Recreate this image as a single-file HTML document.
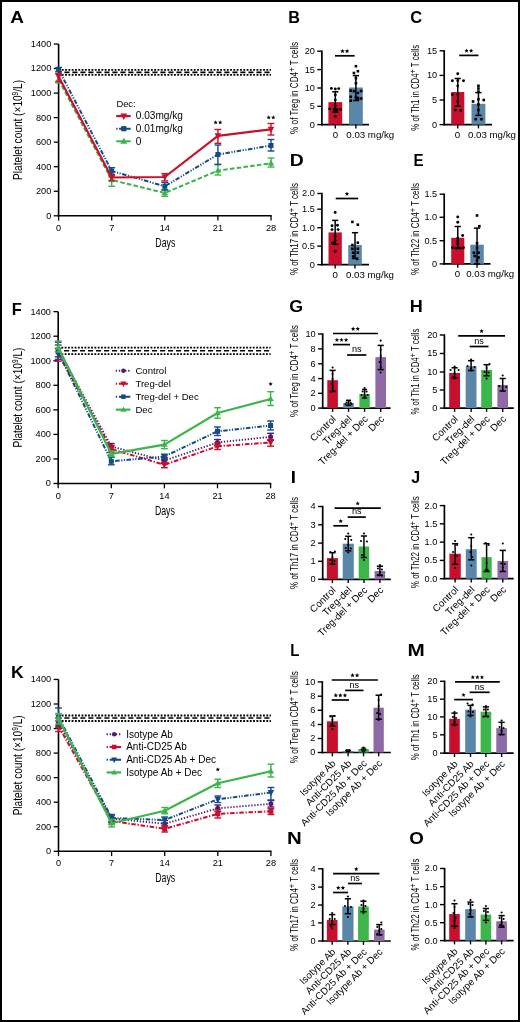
<!DOCTYPE html>
<html><head><meta charset="utf-8"><title>Figure</title>
<style>
html,body{margin:0;padding:0;background:#fff;}
body{width:520px;height:1022px;overflow:hidden;}
svg{display:block;font-family:"Liberation Sans", sans-serif;will-change:transform;}
</style></head><body>
<svg width="520" height="1022" viewBox="0 0 520 1022" font-family="Liberation Sans, sans-serif">
<rect x="0" y="0" width="520" height="1022" fill="#fff"/>
<line x1="58.6" y1="44.02" x2="58.6" y2="216.45" stroke="#000" stroke-width="1.6" stroke-linecap="butt"/>
<line x1="53.8" y1="215.8" x2="58.6" y2="215.8" stroke="#000" stroke-width="1.3" stroke-linecap="butt"/>
<text x="51.3" y="218.7" font-size="9.8" text-anchor="end" textLength="5.12" lengthAdjust="spacingAndGlyphs">0</text>
<line x1="53.8" y1="191.26" x2="58.6" y2="191.26" stroke="#000" stroke-width="1.3" stroke-linecap="butt"/>
<text x="51.3" y="194.16" font-size="9.8" text-anchor="end" textLength="15.35" lengthAdjust="spacingAndGlyphs">200</text>
<line x1="53.8" y1="166.72" x2="58.6" y2="166.72" stroke="#000" stroke-width="1.3" stroke-linecap="butt"/>
<text x="51.3" y="169.62" font-size="9.8" text-anchor="end" textLength="15.35" lengthAdjust="spacingAndGlyphs">400</text>
<line x1="53.8" y1="142.18" x2="58.6" y2="142.18" stroke="#000" stroke-width="1.3" stroke-linecap="butt"/>
<text x="51.3" y="145.08" font-size="9.8" text-anchor="end" textLength="15.35" lengthAdjust="spacingAndGlyphs">600</text>
<line x1="53.8" y1="117.64" x2="58.6" y2="117.64" stroke="#000" stroke-width="1.3" stroke-linecap="butt"/>
<text x="51.3" y="120.54" font-size="9.8" text-anchor="end" textLength="15.35" lengthAdjust="spacingAndGlyphs">800</text>
<line x1="53.8" y1="93.1" x2="58.6" y2="93.1" stroke="#000" stroke-width="1.3" stroke-linecap="butt"/>
<text x="51.3" y="96" font-size="9.8" text-anchor="end" textLength="20.46" lengthAdjust="spacingAndGlyphs">1000</text>
<line x1="53.8" y1="68.56" x2="58.6" y2="68.56" stroke="#000" stroke-width="1.3" stroke-linecap="butt"/>
<text x="51.3" y="71.46" font-size="9.8" text-anchor="end" textLength="20.46" lengthAdjust="spacingAndGlyphs">1200</text>
<line x1="53.8" y1="44.02" x2="58.6" y2="44.02" stroke="#000" stroke-width="1.3" stroke-linecap="butt"/>
<text x="51.3" y="46.92" font-size="9.8" text-anchor="end" textLength="20.46" lengthAdjust="spacingAndGlyphs">1400</text>
<line x1="57.8" y1="215.8" x2="271.65" y2="215.8" stroke="#000" stroke-width="1.6" stroke-linecap="butt"/>
<line x1="58.6" y1="215.8" x2="58.6" y2="220.6" stroke="#000" stroke-width="1.3" stroke-linecap="butt"/>
<text x="58.6" y="230.8" font-size="9.8" text-anchor="middle" textLength="5.12" lengthAdjust="spacingAndGlyphs">0</text>
<line x1="111.7" y1="215.8" x2="111.7" y2="220.6" stroke="#000" stroke-width="1.3" stroke-linecap="butt"/>
<text x="111.7" y="230.8" font-size="9.8" text-anchor="middle" textLength="5.12" lengthAdjust="spacingAndGlyphs">7</text>
<line x1="164.8" y1="215.8" x2="164.8" y2="220.6" stroke="#000" stroke-width="1.3" stroke-linecap="butt"/>
<text x="164.8" y="230.8" font-size="9.8" text-anchor="middle" textLength="10.23" lengthAdjust="spacingAndGlyphs">14</text>
<line x1="217.9" y1="215.8" x2="217.9" y2="220.6" stroke="#000" stroke-width="1.3" stroke-linecap="butt"/>
<text x="217.9" y="230.8" font-size="9.8" text-anchor="middle" textLength="10.23" lengthAdjust="spacingAndGlyphs">21</text>
<line x1="271" y1="215.8" x2="271" y2="220.6" stroke="#000" stroke-width="1.3" stroke-linecap="butt"/>
<text x="271" y="230.8" font-size="9.8" text-anchor="middle" textLength="10.23" lengthAdjust="spacingAndGlyphs">28</text>
<text x="165.3" y="246.8" font-size="12.6" text-anchor="middle" textLength="20" lengthAdjust="spacingAndGlyphs">Days</text>
<text x="21.8" y="129.91" font-size="13" text-anchor="middle" transform="rotate(-90 21.8 129.91)" textLength="100" lengthAdjust="spacingAndGlyphs">Platelet count (×10<tspan font-size="8.5" dy="-4.2">9</tspan><tspan dy="4.2">/L)</tspan></text>
<line x1="61.8" y1="69.9" x2="271" y2="69.9" stroke="#000" stroke-width="1.8" stroke-linecap="butt" stroke-dasharray="1.85 1.45"/>
<line x1="64.4" y1="72.4" x2="271" y2="72.4" stroke="#000" stroke-width="1.6" stroke-linecap="butt" stroke-dasharray="5.1 2.9"/>
<line x1="61.8" y1="74.9" x2="271" y2="74.9" stroke="#000" stroke-width="1.8" stroke-linecap="butt" stroke-dasharray="1.85 1.45"/>
<line x1="58.6" y1="73.6" x2="58.6" y2="83" stroke="#3bb44a" stroke-width="1.4" stroke-linecap="butt"/>
<line x1="55.2" y1="73.6" x2="62" y2="73.6" stroke="#3bb44a" stroke-width="1.4" stroke-linecap="butt"/>
<line x1="55.2" y1="83" x2="62" y2="83" stroke="#3bb44a" stroke-width="1.4" stroke-linecap="butt"/>
<line x1="111.7" y1="176.8" x2="111.7" y2="186.2" stroke="#3bb44a" stroke-width="1.4" stroke-linecap="butt"/>
<line x1="108.3" y1="176.8" x2="115.1" y2="176.8" stroke="#3bb44a" stroke-width="1.4" stroke-linecap="butt"/>
<line x1="108.3" y1="186.2" x2="115.1" y2="186.2" stroke="#3bb44a" stroke-width="1.4" stroke-linecap="butt"/>
<line x1="164.8" y1="189.8" x2="164.8" y2="196.3" stroke="#3bb44a" stroke-width="1.4" stroke-linecap="butt"/>
<line x1="161.4" y1="189.8" x2="168.2" y2="189.8" stroke="#3bb44a" stroke-width="1.4" stroke-linecap="butt"/>
<line x1="161.4" y1="196.3" x2="168.2" y2="196.3" stroke="#3bb44a" stroke-width="1.4" stroke-linecap="butt"/>
<line x1="217.9" y1="164.6" x2="217.9" y2="175" stroke="#3bb44a" stroke-width="1.4" stroke-linecap="butt"/>
<line x1="214.5" y1="164.6" x2="221.3" y2="164.6" stroke="#3bb44a" stroke-width="1.4" stroke-linecap="butt"/>
<line x1="214.5" y1="175" x2="221.3" y2="175" stroke="#3bb44a" stroke-width="1.4" stroke-linecap="butt"/>
<line x1="271" y1="158" x2="271" y2="167" stroke="#3bb44a" stroke-width="1.4" stroke-linecap="butt"/>
<line x1="267.6" y1="158" x2="274.4" y2="158" stroke="#3bb44a" stroke-width="1.4" stroke-linecap="butt"/>
<line x1="267.6" y1="167" x2="274.4" y2="167" stroke="#3bb44a" stroke-width="1.4" stroke-linecap="butt"/>
<polyline points="58.6,79.6 111.7,180 164.8,193 217.9,170.6 271,163.3" fill="none" stroke="#3bb44a" stroke-width="2" stroke-linejoin="round" stroke-linecap="butt" stroke-dasharray="4.6 2.2"/>
<polygon points="55.3,81.84 61.9,81.84 58.6,76.24" fill="#3bb44a"/>
<polygon points="108.4,182.24 115,182.24 111.7,176.64" fill="#3bb44a"/>
<polygon points="161.5,195.24 168.1,195.24 164.8,189.64" fill="#3bb44a"/>
<polygon points="214.6,172.84 221.2,172.84 217.9,167.24" fill="#3bb44a"/>
<polygon points="267.7,165.54 274.3,165.54 271,159.94" fill="#3bb44a"/>
<line x1="58.6" y1="67.5" x2="58.6" y2="71.5" stroke="#144b87" stroke-width="1.4" stroke-linecap="butt"/>
<line x1="55.2" y1="67.5" x2="62" y2="67.5" stroke="#144b87" stroke-width="1.4" stroke-linecap="butt"/>
<line x1="55.2" y1="71.5" x2="62" y2="71.5" stroke="#144b87" stroke-width="1.4" stroke-linecap="butt"/>
<line x1="111.7" y1="167.7" x2="111.7" y2="174.5" stroke="#144b87" stroke-width="1.4" stroke-linecap="butt"/>
<line x1="108.3" y1="167.7" x2="115.1" y2="167.7" stroke="#144b87" stroke-width="1.4" stroke-linecap="butt"/>
<line x1="108.3" y1="174.5" x2="115.1" y2="174.5" stroke="#144b87" stroke-width="1.4" stroke-linecap="butt"/>
<line x1="164.8" y1="182.5" x2="164.8" y2="190" stroke="#144b87" stroke-width="1.4" stroke-linecap="butt"/>
<line x1="161.4" y1="182.5" x2="168.2" y2="182.5" stroke="#144b87" stroke-width="1.4" stroke-linecap="butt"/>
<line x1="161.4" y1="190" x2="168.2" y2="190" stroke="#144b87" stroke-width="1.4" stroke-linecap="butt"/>
<line x1="217.9" y1="145" x2="217.9" y2="164.4" stroke="#144b87" stroke-width="1.4" stroke-linecap="butt"/>
<line x1="214.5" y1="145" x2="221.3" y2="145" stroke="#144b87" stroke-width="1.4" stroke-linecap="butt"/>
<line x1="214.5" y1="164.4" x2="221.3" y2="164.4" stroke="#144b87" stroke-width="1.4" stroke-linecap="butt"/>
<line x1="271" y1="139.5" x2="271" y2="151" stroke="#144b87" stroke-width="1.4" stroke-linecap="butt"/>
<line x1="267.6" y1="139.5" x2="274.4" y2="139.5" stroke="#144b87" stroke-width="1.4" stroke-linecap="butt"/>
<line x1="267.6" y1="151" x2="274.4" y2="151" stroke="#144b87" stroke-width="1.4" stroke-linecap="butt"/>
<polyline points="58.6,69.5 111.7,171 164.8,186.3 217.9,154.5 271,145.5" fill="none" stroke="#144b87" stroke-width="2" stroke-linejoin="round" stroke-linecap="butt" stroke-dasharray="4.5 1.5 1.2 1.5 1.2 1.5"/>
<rect x="56.1" y="67" width="5" height="5" fill="#144b87"/>
<rect x="109.2" y="168.5" width="5" height="5" fill="#144b87"/>
<rect x="162.3" y="183.8" width="5" height="5" fill="#144b87"/>
<rect x="215.4" y="152" width="5" height="5" fill="#144b87"/>
<rect x="268.5" y="143" width="5" height="5" fill="#144b87"/>
<line x1="58.6" y1="73.3" x2="58.6" y2="81.6" stroke="#c8102e" stroke-width="1.4" stroke-linecap="butt"/>
<line x1="55.2" y1="73.3" x2="62" y2="73.3" stroke="#c8102e" stroke-width="1.4" stroke-linecap="butt"/>
<line x1="55.2" y1="81.6" x2="62" y2="81.6" stroke="#c8102e" stroke-width="1.4" stroke-linecap="butt"/>
<line x1="111.7" y1="175" x2="111.7" y2="180.5" stroke="#c8102e" stroke-width="1.4" stroke-linecap="butt"/>
<line x1="108.3" y1="175" x2="115.1" y2="175" stroke="#c8102e" stroke-width="1.4" stroke-linecap="butt"/>
<line x1="108.3" y1="180.5" x2="115.1" y2="180.5" stroke="#c8102e" stroke-width="1.4" stroke-linecap="butt"/>
<line x1="164.8" y1="173.6" x2="164.8" y2="180.9" stroke="#c8102e" stroke-width="1.4" stroke-linecap="butt"/>
<line x1="161.4" y1="173.6" x2="168.2" y2="173.6" stroke="#c8102e" stroke-width="1.4" stroke-linecap="butt"/>
<line x1="161.4" y1="180.9" x2="168.2" y2="180.9" stroke="#c8102e" stroke-width="1.4" stroke-linecap="butt"/>
<line x1="217.9" y1="129.5" x2="217.9" y2="143.3" stroke="#c8102e" stroke-width="1.4" stroke-linecap="butt"/>
<line x1="214.5" y1="129.5" x2="221.3" y2="129.5" stroke="#c8102e" stroke-width="1.4" stroke-linecap="butt"/>
<line x1="214.5" y1="143.3" x2="221.3" y2="143.3" stroke="#c8102e" stroke-width="1.4" stroke-linecap="butt"/>
<line x1="271" y1="123.5" x2="271" y2="135" stroke="#c8102e" stroke-width="1.4" stroke-linecap="butt"/>
<line x1="267.6" y1="123.5" x2="274.4" y2="123.5" stroke="#c8102e" stroke-width="1.4" stroke-linecap="butt"/>
<line x1="267.6" y1="135" x2="274.4" y2="135" stroke="#c8102e" stroke-width="1.4" stroke-linecap="butt"/>
<polyline points="58.6,76.6 111.7,177.5 164.8,177 217.9,135.8 271,129.3" fill="none" stroke="#c8102e" stroke-width="2.2" stroke-linejoin="round" stroke-linecap="butt"/>
<polygon points="55.3,74.12 61.9,74.12 58.6,80.32" fill="#c8102e"/>
<polygon points="108.4,175.02 115,175.02 111.7,181.22" fill="#c8102e"/>
<polygon points="161.5,174.52 168.1,174.52 164.8,180.72" fill="#c8102e"/>
<polygon points="214.6,133.32 221.2,133.32 217.9,139.52" fill="#c8102e"/>
<polygon points="267.7,126.82 274.3,126.82 271,133.02" fill="#c8102e"/>
<polygon points="215.6,120.2 216.21,121.66 217.79,121.79 216.58,122.82 216.95,124.36 215.6,123.53 214.25,124.36 214.62,122.82 213.41,121.79 214.99,121.66" fill="#000"/>
<polygon points="220.2,120.2 220.81,121.66 222.39,121.79 221.18,122.82 221.55,124.36 220.2,123.53 218.85,124.36 219.22,122.82 218.01,121.79 219.59,121.66" fill="#000"/>
<polygon points="268.7,115.2 269.31,116.66 270.89,116.79 269.68,117.82 270.05,119.36 268.7,118.53 267.35,119.36 267.72,117.82 266.51,116.79 268.09,116.66" fill="#000"/>
<polygon points="273.3,115.2 273.91,116.66 275.49,116.79 274.28,117.82 274.65,119.36 273.3,118.53 271.95,119.36 272.32,117.82 271.11,116.79 272.69,116.66" fill="#000"/>
<text x="116.4" y="106.8" font-size="9.4">Dec:</text>
<line x1="116.2" y1="116.1" x2="130.7" y2="116.1" stroke="#c8102e" stroke-width="2.2" stroke-linecap="butt"/>
<polygon points="120.33,113.5 127.27,113.5 123.8,120.01" fill="#c8102e"/>
<text x="135.8" y="119.4" font-size="10.1">0.03mg/kg</text>
<line x1="116.2" y1="128.7" x2="130.7" y2="128.7" stroke="#144b87" stroke-width="2" stroke-linecap="butt" stroke-dasharray="1.3 1.6 20 0"/>
<rect x="121.17" y="126.07" width="5.25" height="5.25" fill="#144b87"/>
<text x="135.8" y="132" font-size="10.1">0.01mg/kg</text>
<line x1="116.2" y1="141.3" x2="130.7" y2="141.3" stroke="#3bb44a" stroke-width="2" stroke-linecap="butt"/>
<polygon points="120.33,143.65 127.27,143.65 123.8,137.77" fill="#3bb44a"/>
<text x="135.8" y="144.6" font-size="10.1">0</text>
<line x1="321.9" y1="50.5" x2="321.9" y2="125.4" stroke="#000" stroke-width="1.7" stroke-linecap="butt"/>
<line x1="317.3" y1="124.6" x2="321.9" y2="124.6" stroke="#000" stroke-width="1.4" stroke-linecap="butt"/>
<text x="314.9" y="127.5" font-size="9.8" text-anchor="end" textLength="5.12" lengthAdjust="spacingAndGlyphs">0</text>
<line x1="317.3" y1="106.3" x2="321.9" y2="106.3" stroke="#000" stroke-width="1.4" stroke-linecap="butt"/>
<text x="314.9" y="109.2" font-size="9.8" text-anchor="end" textLength="5.12" lengthAdjust="spacingAndGlyphs">5</text>
<line x1="317.3" y1="88" x2="321.9" y2="88" stroke="#000" stroke-width="1.4" stroke-linecap="butt"/>
<text x="314.9" y="90.9" font-size="9.8" text-anchor="end" textLength="10.23" lengthAdjust="spacingAndGlyphs">10</text>
<line x1="317.3" y1="69.6" x2="321.9" y2="69.6" stroke="#000" stroke-width="1.4" stroke-linecap="butt"/>
<text x="314.9" y="72.5" font-size="9.8" text-anchor="end" textLength="10.23" lengthAdjust="spacingAndGlyphs">15</text>
<line x1="317.3" y1="51.2" x2="321.9" y2="51.2" stroke="#000" stroke-width="1.4" stroke-linecap="butt"/>
<text x="314.9" y="54.1" font-size="9.8" text-anchor="end" textLength="10.23" lengthAdjust="spacingAndGlyphs">20</text>
<line x1="321.1" y1="124.6" x2="369" y2="124.6" stroke="#000" stroke-width="1.7" stroke-linecap="butt"/>
<rect x="328.4" y="102.1" width="13.8" height="22.5" fill="#c8102e"/>
<rect x="349" y="87.5" width="13.8" height="37.1" fill="#5a86a9"/>
<line x1="335.3" y1="124.6" x2="335.3" y2="128.4" stroke="#000" stroke-width="1.4" stroke-linecap="butt"/>
<line x1="335.3" y1="91.8" x2="335.3" y2="112.1" stroke="#000" stroke-width="1.5" stroke-linecap="butt"/>
<line x1="332.2" y1="91.8" x2="338.4" y2="91.8" stroke="#000" stroke-width="1.5" stroke-linecap="butt"/>
<line x1="332.2" y1="112.1" x2="338.4" y2="112.1" stroke="#000" stroke-width="1.5" stroke-linecap="butt"/>
<circle cx="331.4" cy="88.4" r="1.45" fill="#000"/>
<circle cx="335.3" cy="89" r="1.45" fill="#000"/>
<circle cx="338.7" cy="88.6" r="1.45" fill="#000"/>
<circle cx="335.3" cy="95" r="1.45" fill="#000"/>
<circle cx="335.3" cy="100" r="1.45" fill="#000"/>
<circle cx="335.3" cy="105.9" r="1.45" fill="#000"/>
<circle cx="329.7" cy="108.9" r="1.45" fill="#000"/>
<circle cx="334" cy="109.5" r="1.45" fill="#000"/>
<circle cx="337" cy="109.8" r="1.45" fill="#000"/>
<circle cx="340.7" cy="109.5" r="1.45" fill="#000"/>
<circle cx="335.3" cy="112" r="1.45" fill="#000"/>
<circle cx="335.3" cy="116.4" r="1.45" fill="#000"/>
<line x1="355.9" y1="124.6" x2="355.9" y2="128.4" stroke="#000" stroke-width="1.4" stroke-linecap="butt"/>
<line x1="355.9" y1="75.6" x2="355.9" y2="100.5" stroke="#000" stroke-width="1.5" stroke-linecap="butt"/>
<line x1="352.8" y1="75.6" x2="359" y2="75.6" stroke="#000" stroke-width="1.5" stroke-linecap="butt"/>
<line x1="352.8" y1="100.5" x2="359" y2="100.5" stroke="#000" stroke-width="1.5" stroke-linecap="butt"/>
<rect x="354.6" y="64.9" width="2.6" height="2.6" fill="#000"/>
<rect x="356.6" y="69.9" width="2.6" height="2.6" fill="#000"/>
<rect x="352.6" y="71.7" width="2.6" height="2.6" fill="#000"/>
<rect x="354.6" y="76.9" width="2.6" height="2.6" fill="#000"/>
<rect x="354.6" y="81.9" width="2.6" height="2.6" fill="#000"/>
<rect x="349.4" y="89.4" width="2.6" height="2.6" fill="#000"/>
<rect x="352.6" y="89.9" width="2.6" height="2.6" fill="#000"/>
<rect x="356.6" y="91.6" width="2.6" height="2.6" fill="#000"/>
<rect x="359.8" y="89.7" width="2.6" height="2.6" fill="#000"/>
<rect x="349.4" y="95.5" width="2.6" height="2.6" fill="#000"/>
<rect x="354.6" y="95.9" width="2.6" height="2.6" fill="#000"/>
<rect x="356.6" y="96.7" width="2.6" height="2.6" fill="#000"/>
<rect x="359.8" y="97.2" width="2.6" height="2.6" fill="#000"/>
<rect x="349.4" y="99.4" width="2.6" height="2.6" fill="#000"/>
<rect x="356.6" y="98.5" width="2.6" height="2.6" fill="#000"/>
<line x1="335" y1="55.8" x2="354.6" y2="55.8" stroke="#000" stroke-width="1.7" stroke-linecap="butt"/>
<polygon points="342.5,48.9 343.11,50.36 344.69,50.49 343.48,51.52 343.85,53.06 342.5,52.23 341.15,53.06 341.52,51.52 340.31,50.49 341.89,50.36" fill="#000"/>
<polygon points="347.1,48.9 347.71,50.36 349.29,50.49 348.08,51.52 348.45,53.06 347.1,52.23 345.75,53.06 346.12,51.52 344.91,50.49 346.49,50.36" fill="#000"/>
<text x="297.7" y="87.9" font-size="10.3" text-anchor="middle" transform="rotate(-90 297.7 87.9)" textLength="92" lengthAdjust="spacingAndGlyphs">% of Treg in CD4<tspan font-size="9.5" dy="-3.0">+</tspan><tspan dy="3.0"> T cells</tspan></text>
<text x="335.4" y="137.8" font-size="9.7" text-anchor="middle">0</text>
<text x="346.3" y="137.8" font-size="9.7">0.03 mg/kg</text>
<line x1="444.2" y1="50.1" x2="444.2" y2="125.4" stroke="#000" stroke-width="1.7" stroke-linecap="butt"/>
<line x1="439.6" y1="124.6" x2="444.2" y2="124.6" stroke="#000" stroke-width="1.4" stroke-linecap="butt"/>
<text x="437.2" y="127.5" font-size="9.8" text-anchor="end" textLength="5.12" lengthAdjust="spacingAndGlyphs">0</text>
<line x1="439.6" y1="100" x2="444.2" y2="100" stroke="#000" stroke-width="1.4" stroke-linecap="butt"/>
<text x="437.2" y="102.9" font-size="9.8" text-anchor="end" textLength="5.12" lengthAdjust="spacingAndGlyphs">5</text>
<line x1="439.6" y1="75.4" x2="444.2" y2="75.4" stroke="#000" stroke-width="1.4" stroke-linecap="butt"/>
<text x="437.2" y="78.3" font-size="9.8" text-anchor="end" textLength="10.23" lengthAdjust="spacingAndGlyphs">10</text>
<line x1="439.6" y1="50.8" x2="444.2" y2="50.8" stroke="#000" stroke-width="1.4" stroke-linecap="butt"/>
<text x="437.2" y="53.7" font-size="9.8" text-anchor="end" textLength="10.23" lengthAdjust="spacingAndGlyphs">15</text>
<line x1="443.4" y1="124.6" x2="492" y2="124.6" stroke="#000" stroke-width="1.7" stroke-linecap="butt"/>
<rect x="451.2" y="92" width="13.1" height="32.6" fill="#c8102e"/>
<rect x="471.5" y="103.8" width="13.9" height="20.8" fill="#5a86a9"/>
<line x1="457.75" y1="124.6" x2="457.75" y2="128.4" stroke="#000" stroke-width="1.4" stroke-linecap="butt"/>
<line x1="457.75" y1="78.5" x2="457.75" y2="106.2" stroke="#000" stroke-width="1.5" stroke-linecap="butt"/>
<line x1="454.65" y1="78.5" x2="460.85" y2="78.5" stroke="#000" stroke-width="1.5" stroke-linecap="butt"/>
<line x1="454.65" y1="106.2" x2="460.85" y2="106.2" stroke="#000" stroke-width="1.5" stroke-linecap="butt"/>
<circle cx="457.75" cy="73.8" r="1.45" fill="#000"/>
<circle cx="452.35" cy="80.8" r="1.45" fill="#000"/>
<circle cx="457.75" cy="80.8" r="1.45" fill="#000"/>
<circle cx="463.55" cy="80.8" r="1.45" fill="#000"/>
<circle cx="457.75" cy="86" r="1.45" fill="#000"/>
<circle cx="452.35" cy="94.6" r="1.45" fill="#000"/>
<circle cx="457.75" cy="94.6" r="1.45" fill="#000"/>
<circle cx="457.75" cy="101.5" r="1.45" fill="#000"/>
<circle cx="455.45" cy="110" r="1.45" fill="#000"/>
<circle cx="460.85" cy="110.5" r="1.45" fill="#000"/>
<line x1="478.45" y1="124.6" x2="478.45" y2="128.4" stroke="#000" stroke-width="1.4" stroke-linecap="butt"/>
<line x1="478.45" y1="92.6" x2="478.45" y2="115.4" stroke="#000" stroke-width="1.5" stroke-linecap="butt"/>
<line x1="475.35" y1="92.6" x2="481.55" y2="92.6" stroke="#000" stroke-width="1.5" stroke-linecap="butt"/>
<line x1="475.35" y1="115.4" x2="481.55" y2="115.4" stroke="#000" stroke-width="1.5" stroke-linecap="butt"/>
<rect x="477.15" y="84.5" width="2.6" height="2.6" fill="#000"/>
<rect x="477.15" y="87.2" width="2.6" height="2.6" fill="#000"/>
<rect x="477.15" y="90.2" width="2.6" height="2.6" fill="#000"/>
<rect x="471.75" y="100.2" width="2.6" height="2.6" fill="#000"/>
<rect x="477.15" y="97.9" width="2.6" height="2.6" fill="#000"/>
<rect x="482.45" y="98.7" width="2.6" height="2.6" fill="#000"/>
<rect x="477.15" y="108.7" width="2.6" height="2.6" fill="#000"/>
<rect x="474.35" y="117.9" width="2.6" height="2.6" fill="#000"/>
<rect x="480.15" y="117.9" width="2.6" height="2.6" fill="#000"/>
<rect x="477.15" y="103.2" width="2.6" height="2.6" fill="#000"/>
<line x1="459.2" y1="55.4" x2="478.5" y2="55.4" stroke="#000" stroke-width="1.7" stroke-linecap="butt"/>
<polygon points="466.55,48.5 467.16,49.96 468.74,50.09 467.53,51.12 467.9,52.66 466.55,51.83 465.2,52.66 465.57,51.12 464.36,50.09 465.94,49.96" fill="#000"/>
<polygon points="471.15,48.5 471.76,49.96 473.34,50.09 472.13,51.12 472.5,52.66 471.15,51.83 469.8,52.66 470.17,51.12 468.96,50.09 470.54,49.96" fill="#000"/>
<text x="419.5" y="87.7" font-size="10.3" text-anchor="middle" transform="rotate(-90 419.5 87.7)" textLength="86" lengthAdjust="spacingAndGlyphs">% of Th1 in CD4<tspan font-size="9.5" dy="-3.0">+</tspan><tspan dy="3.0"> T cells</tspan></text>
<text x="457.4" y="137.8" font-size="9.7" text-anchor="middle">0</text>
<text x="468" y="137.8" font-size="9.7">0.03 mg/kg</text>
<line x1="321.9" y1="192.8" x2="321.9" y2="265.5" stroke="#000" stroke-width="1.7" stroke-linecap="butt"/>
<line x1="317.3" y1="264.7" x2="321.9" y2="264.7" stroke="#000" stroke-width="1.4" stroke-linecap="butt"/>
<text x="314.9" y="267.6" font-size="9.8" text-anchor="end" textLength="5.12" lengthAdjust="spacingAndGlyphs">0</text>
<line x1="317.3" y1="246.1" x2="321.9" y2="246.1" stroke="#000" stroke-width="1.4" stroke-linecap="butt"/>
<text x="314.9" y="249" font-size="9.8" text-anchor="end" textLength="12.79" lengthAdjust="spacingAndGlyphs">0.5</text>
<line x1="317.3" y1="227.7" x2="321.9" y2="227.7" stroke="#000" stroke-width="1.4" stroke-linecap="butt"/>
<text x="314.9" y="230.6" font-size="9.8" text-anchor="end" textLength="12.79" lengthAdjust="spacingAndGlyphs">1.0</text>
<line x1="317.3" y1="209.2" x2="321.9" y2="209.2" stroke="#000" stroke-width="1.4" stroke-linecap="butt"/>
<text x="314.9" y="212.1" font-size="9.8" text-anchor="end" textLength="12.79" lengthAdjust="spacingAndGlyphs">1.5</text>
<line x1="317.3" y1="193.5" x2="321.9" y2="193.5" stroke="#000" stroke-width="1.4" stroke-linecap="butt"/>
<text x="314.9" y="196.4" font-size="9.8" text-anchor="end" textLength="12.79" lengthAdjust="spacingAndGlyphs">2.0</text>
<line x1="321.1" y1="264.7" x2="369" y2="264.7" stroke="#000" stroke-width="1.7" stroke-linecap="butt"/>
<rect x="328.5" y="232.4" width="13.3" height="32.3" fill="#c8102e"/>
<rect x="348.2" y="245" width="13.6" height="19.7" fill="#5a86a9"/>
<line x1="335.15" y1="264.7" x2="335.15" y2="268.5" stroke="#000" stroke-width="1.4" stroke-linecap="butt"/>
<line x1="335.15" y1="220.4" x2="335.15" y2="244.2" stroke="#000" stroke-width="1.5" stroke-linecap="butt"/>
<line x1="332.05" y1="220.4" x2="338.25" y2="220.4" stroke="#000" stroke-width="1.5" stroke-linecap="butt"/>
<line x1="332.05" y1="244.2" x2="338.25" y2="244.2" stroke="#000" stroke-width="1.5" stroke-linecap="butt"/>
<circle cx="335.15" cy="212.4" r="1.45" fill="#000"/>
<circle cx="332.05" cy="225.8" r="1.45" fill="#000"/>
<circle cx="337.45" cy="225.3" r="1.45" fill="#000"/>
<circle cx="332.05" cy="229.6" r="1.45" fill="#000"/>
<circle cx="338.05" cy="229.6" r="1.45" fill="#000"/>
<circle cx="335.15" cy="236.5" r="1.45" fill="#000"/>
<circle cx="335.15" cy="240.4" r="1.45" fill="#000"/>
<circle cx="332.65" cy="243" r="1.45" fill="#000"/>
<circle cx="335.15" cy="251.2" r="1.45" fill="#000"/>
<line x1="355" y1="264.7" x2="355" y2="268.5" stroke="#000" stroke-width="1.4" stroke-linecap="butt"/>
<line x1="355" y1="232.7" x2="355" y2="258.5" stroke="#000" stroke-width="1.5" stroke-linecap="butt"/>
<line x1="351.9" y1="232.7" x2="358.1" y2="232.7" stroke="#000" stroke-width="1.5" stroke-linecap="butt"/>
<line x1="351.9" y1="258.5" x2="358.1" y2="258.5" stroke="#000" stroke-width="1.5" stroke-linecap="butt"/>
<rect x="351.1" y="220.6" width="2.6" height="2.6" fill="#000"/>
<rect x="356.5" y="223.4" width="2.6" height="2.6" fill="#000"/>
<rect x="356.5" y="241.4" width="2.6" height="2.6" fill="#000"/>
<rect x="351.1" y="243.7" width="2.6" height="2.6" fill="#000"/>
<rect x="351.1" y="247.5" width="2.6" height="2.6" fill="#000"/>
<rect x="356.5" y="247.5" width="2.6" height="2.6" fill="#000"/>
<rect x="351.8" y="251.4" width="2.6" height="2.6" fill="#000"/>
<rect x="356.5" y="251.4" width="2.6" height="2.6" fill="#000"/>
<rect x="351.8" y="255.2" width="2.6" height="2.6" fill="#000"/>
<rect x="355.8" y="257.5" width="2.6" height="2.6" fill="#000"/>
<line x1="335.7" y1="198.5" x2="358.2" y2="198.5" stroke="#000" stroke-width="1.7" stroke-linecap="butt"/>
<polygon points="346.95,191.6 347.56,193.06 349.14,193.19 347.93,194.22 348.3,195.76 346.95,194.94 345.6,195.76 345.97,194.22 344.76,193.19 346.34,193.06" fill="#000"/>
<text x="297.7" y="229.1" font-size="10.3" text-anchor="middle" transform="rotate(-90 297.7 229.1)" textLength="92" lengthAdjust="spacingAndGlyphs">% of Th17 in CD4<tspan font-size="9.5" dy="-3.0">+</tspan><tspan dy="3.0"> T cells</tspan></text>
<text x="335.1" y="277.9" font-size="9.7" text-anchor="middle">0</text>
<text x="346" y="277.9" font-size="9.7">0.03 mg/kg</text>
<line x1="444.2" y1="193.5" x2="444.2" y2="264.7" stroke="#000" stroke-width="1.7" stroke-linecap="butt"/>
<line x1="439.6" y1="263.9" x2="444.2" y2="263.9" stroke="#000" stroke-width="1.4" stroke-linecap="butt"/>
<text x="437.2" y="266.8" font-size="9.8" text-anchor="end" textLength="5.12" lengthAdjust="spacingAndGlyphs">0</text>
<line x1="439.6" y1="240.7" x2="444.2" y2="240.7" stroke="#000" stroke-width="1.4" stroke-linecap="butt"/>
<text x="437.2" y="243.6" font-size="9.8" text-anchor="end" textLength="12.79" lengthAdjust="spacingAndGlyphs">0.5</text>
<line x1="439.6" y1="217.3" x2="444.2" y2="217.3" stroke="#000" stroke-width="1.4" stroke-linecap="butt"/>
<text x="437.2" y="220.2" font-size="9.8" text-anchor="end" textLength="12.79" lengthAdjust="spacingAndGlyphs">1.0</text>
<line x1="439.6" y1="194.2" x2="444.2" y2="194.2" stroke="#000" stroke-width="1.4" stroke-linecap="butt"/>
<text x="437.2" y="197.1" font-size="9.8" text-anchor="end" textLength="12.79" lengthAdjust="spacingAndGlyphs">1.5</text>
<line x1="443.4" y1="263.9" x2="490.5" y2="263.9" stroke="#000" stroke-width="1.7" stroke-linecap="butt"/>
<rect x="451.2" y="237.8" width="13.1" height="26.1" fill="#c8102e"/>
<rect x="470.3" y="244.7" width="13.5" height="19.2" fill="#5a86a9"/>
<line x1="457.75" y1="263.9" x2="457.75" y2="267.7" stroke="#000" stroke-width="1.4" stroke-linecap="butt"/>
<line x1="457.75" y1="226.5" x2="457.75" y2="248.1" stroke="#000" stroke-width="1.5" stroke-linecap="butt"/>
<line x1="454.65" y1="226.5" x2="460.85" y2="226.5" stroke="#000" stroke-width="1.5" stroke-linecap="butt"/>
<line x1="454.65" y1="248.1" x2="460.85" y2="248.1" stroke="#000" stroke-width="1.5" stroke-linecap="butt"/>
<circle cx="457.75" cy="217" r="1.45" fill="#000"/>
<circle cx="457.75" cy="222.2" r="1.45" fill="#000"/>
<circle cx="462.65" cy="235.5" r="1.45" fill="#000"/>
<circle cx="457.75" cy="238.1" r="1.45" fill="#000"/>
<circle cx="457.75" cy="241" r="1.45" fill="#000"/>
<circle cx="457.75" cy="244.2" r="1.45" fill="#000"/>
<circle cx="452.65" cy="247.8" r="1.45" fill="#000"/>
<circle cx="456.25" cy="248.2" r="1.45" fill="#000"/>
<circle cx="460.25" cy="248.2" r="1.45" fill="#000"/>
<circle cx="463.45" cy="247.8" r="1.45" fill="#000"/>
<line x1="477.05" y1="263.9" x2="477.05" y2="267.7" stroke="#000" stroke-width="1.4" stroke-linecap="butt"/>
<line x1="477.05" y1="228.1" x2="477.05" y2="263.9" stroke="#000" stroke-width="1.5" stroke-linecap="butt"/>
<line x1="473.95" y1="228.1" x2="480.15" y2="228.1" stroke="#000" stroke-width="1.5" stroke-linecap="butt"/>
<line x1="473.95" y1="263.9" x2="480.15" y2="263.9" stroke="#000" stroke-width="1.5" stroke-linecap="butt"/>
<rect x="475.75" y="214.2" width="2.6" height="2.6" fill="#000"/>
<rect x="478.05" y="224.9" width="2.6" height="2.6" fill="#000"/>
<rect x="475.75" y="241.9" width="2.6" height="2.6" fill="#000"/>
<rect x="475.75" y="246.7" width="2.6" height="2.6" fill="#000"/>
<rect x="472.65" y="251.4" width="2.6" height="2.6" fill="#000"/>
<rect x="477.25" y="251.4" width="2.6" height="2.6" fill="#000"/>
<rect x="473.45" y="254.7" width="2.6" height="2.6" fill="#000"/>
<rect x="477.25" y="256.2" width="2.6" height="2.6" fill="#000"/>
<rect x="475.75" y="259.1" width="2.6" height="2.6" fill="#000"/>
<text x="419.5" y="229.05" font-size="10.3" text-anchor="middle" transform="rotate(-90 419.5 229.05)" textLength="92" lengthAdjust="spacingAndGlyphs">% of Th22 in CD4<tspan font-size="9.5" dy="-3.0">+</tspan><tspan dy="3.0"> T cells</tspan></text>
<text x="457.4" y="277.1" font-size="9.7" text-anchor="middle">0</text>
<text x="466.2" y="277.1" font-size="9.7">0.03 mg/kg</text>
<line x1="322.7" y1="333.3" x2="322.7" y2="408.9" stroke="#000" stroke-width="1.7" stroke-linecap="butt"/>
<line x1="318.1" y1="408.1" x2="322.7" y2="408.1" stroke="#000" stroke-width="1.4" stroke-linecap="butt"/>
<text x="315.7" y="411" font-size="9.8" text-anchor="end" textLength="5.12" lengthAdjust="spacingAndGlyphs">0</text>
<line x1="318.1" y1="393.3" x2="322.7" y2="393.3" stroke="#000" stroke-width="1.4" stroke-linecap="butt"/>
<text x="315.7" y="396.2" font-size="9.8" text-anchor="end" textLength="5.12" lengthAdjust="spacingAndGlyphs">2</text>
<line x1="318.1" y1="378.6" x2="322.7" y2="378.6" stroke="#000" stroke-width="1.4" stroke-linecap="butt"/>
<text x="315.7" y="381.5" font-size="9.8" text-anchor="end" textLength="5.12" lengthAdjust="spacingAndGlyphs">4</text>
<line x1="318.1" y1="363.8" x2="322.7" y2="363.8" stroke="#000" stroke-width="1.4" stroke-linecap="butt"/>
<text x="315.7" y="366.7" font-size="9.8" text-anchor="end" textLength="5.12" lengthAdjust="spacingAndGlyphs">6</text>
<line x1="318.1" y1="348.9" x2="322.7" y2="348.9" stroke="#000" stroke-width="1.4" stroke-linecap="butt"/>
<text x="315.7" y="351.8" font-size="9.8" text-anchor="end" textLength="5.12" lengthAdjust="spacingAndGlyphs">8</text>
<line x1="318.1" y1="334" x2="322.7" y2="334" stroke="#000" stroke-width="1.4" stroke-linecap="butt"/>
<text x="315.7" y="336.9" font-size="9.8" text-anchor="end" textLength="10.23" lengthAdjust="spacingAndGlyphs">10</text>
<line x1="321.9" y1="408.1" x2="390.6" y2="408.1" stroke="#000" stroke-width="1.7" stroke-linecap="butt"/>
<rect x="327.3" y="380.2" width="10.6" height="27.9" fill="#c8102e"/>
<rect x="343.3" y="403" width="10.5" height="5.1" fill="#5a86a9"/>
<rect x="359.4" y="394" width="10.4" height="14.1" fill="#3cb54a"/>
<rect x="375.4" y="357.1" width="10.6" height="51" fill="#8d69a6"/>
<line x1="332.6" y1="408.1" x2="332.6" y2="411.9" stroke="#000" stroke-width="1.4" stroke-linecap="butt"/>
<line x1="332.6" y1="370.4" x2="332.6" y2="391.5" stroke="#000" stroke-width="1.5" stroke-linecap="butt"/>
<line x1="329.5" y1="370.4" x2="335.7" y2="370.4" stroke="#000" stroke-width="1.5" stroke-linecap="butt"/>
<line x1="329.5" y1="391.5" x2="335.7" y2="391.5" stroke="#000" stroke-width="1.5" stroke-linecap="butt"/>
<circle cx="332.6" cy="367.5" r="1.05" fill="#000"/>
<circle cx="332.6" cy="374" r="1.05" fill="#000"/>
<circle cx="332.6" cy="379" r="1.05" fill="#000"/>
<circle cx="331.6" cy="384" r="1.05" fill="#000"/>
<circle cx="332.6" cy="388" r="1.05" fill="#000"/>
<circle cx="331.1" cy="391.5" r="1.05" fill="#000"/>
<circle cx="334.1" cy="391" r="1.05" fill="#000"/>
<line x1="348.55" y1="408.1" x2="348.55" y2="411.9" stroke="#000" stroke-width="1.4" stroke-linecap="butt"/>
<line x1="348.55" y1="400.3" x2="348.55" y2="405.3" stroke="#000" stroke-width="1.5" stroke-linecap="butt"/>
<line x1="346.05" y1="400.3" x2="351.05" y2="400.3" stroke="#000" stroke-width="1.5" stroke-linecap="butt"/>
<line x1="346.05" y1="405.3" x2="351.05" y2="405.3" stroke="#000" stroke-width="1.5" stroke-linecap="butt"/>
<circle cx="346.55" cy="402.5" r="1.05" fill="#000"/>
<circle cx="348.55" cy="401" r="1.05" fill="#000"/>
<circle cx="350.55" cy="402.5" r="1.05" fill="#000"/>
<circle cx="351.55" cy="404" r="1.05" fill="#000"/>
<circle cx="345.55" cy="404.2" r="1.05" fill="#000"/>
<line x1="364.6" y1="408.1" x2="364.6" y2="411.9" stroke="#000" stroke-width="1.4" stroke-linecap="butt"/>
<line x1="364.6" y1="389.5" x2="364.6" y2="398" stroke="#000" stroke-width="1.5" stroke-linecap="butt"/>
<line x1="362.1" y1="389.5" x2="367.1" y2="389.5" stroke="#000" stroke-width="1.5" stroke-linecap="butt"/>
<line x1="362.1" y1="398" x2="367.1" y2="398" stroke="#000" stroke-width="1.5" stroke-linecap="butt"/>
<circle cx="364.6" cy="388" r="1.05" fill="#000"/>
<circle cx="362.6" cy="391.5" r="1.05" fill="#000"/>
<circle cx="366.6" cy="391.5" r="1.05" fill="#000"/>
<circle cx="361.6" cy="395" r="1.05" fill="#000"/>
<circle cx="364.6" cy="396" r="1.05" fill="#000"/>
<circle cx="367.6" cy="395" r="1.05" fill="#000"/>
<line x1="380.7" y1="408.1" x2="380.7" y2="411.9" stroke="#000" stroke-width="1.4" stroke-linecap="butt"/>
<line x1="380.7" y1="345.4" x2="380.7" y2="369.6" stroke="#000" stroke-width="1.5" stroke-linecap="butt"/>
<line x1="377.6" y1="345.4" x2="383.8" y2="345.4" stroke="#000" stroke-width="1.5" stroke-linecap="butt"/>
<line x1="377.6" y1="369.6" x2="383.8" y2="369.6" stroke="#000" stroke-width="1.5" stroke-linecap="butt"/>
<circle cx="380.7" cy="340.6" r="1.05" fill="#000"/>
<circle cx="380.7" cy="350" r="1.05" fill="#000"/>
<circle cx="380.7" cy="356" r="1.05" fill="#000"/>
<circle cx="379.7" cy="362" r="1.05" fill="#000"/>
<circle cx="380.7" cy="367" r="1.05" fill="#000"/>
<circle cx="380.7" cy="372.5" r="1.05" fill="#000"/>
<line x1="333" y1="333.5" x2="377.9" y2="333.5" stroke="#000" stroke-width="1.7" stroke-linecap="butt"/>
<polygon points="353.15,326.6 353.76,328.06 355.34,328.19 354.13,329.22 354.5,330.76 353.15,329.94 351.8,330.76 352.17,329.22 350.96,328.19 352.54,328.06" fill="#000"/>
<polygon points="357.75,326.6 358.36,328.06 359.94,328.19 358.73,329.22 359.1,330.76 357.75,329.94 356.4,330.76 356.77,329.22 355.56,328.19 357.14,328.06" fill="#000"/>
<line x1="333" y1="344.6" x2="350" y2="344.6" stroke="#000" stroke-width="1.7" stroke-linecap="butt"/>
<polygon points="336.9,337.7 337.51,339.16 339.09,339.29 337.88,340.32 338.25,341.86 336.9,341.04 335.55,341.86 335.92,340.32 334.71,339.29 336.29,339.16" fill="#000"/>
<polygon points="341.5,337.7 342.11,339.16 343.69,339.29 342.48,340.32 342.85,341.86 341.5,341.04 340.15,341.86 340.52,340.32 339.31,339.29 340.89,339.16" fill="#000"/>
<polygon points="346.1,337.7 346.71,339.16 348.29,339.29 347.08,340.32 347.45,341.86 346.1,341.04 344.75,341.86 345.12,340.32 343.91,339.29 345.49,339.16" fill="#000"/>
<line x1="347.1" y1="355" x2="366.3" y2="355" stroke="#000" stroke-width="1.7" stroke-linecap="butt"/>
<text x="356.7" y="352.2" font-size="9.1" text-anchor="middle">ns</text>
<text x="297.7" y="371.05" font-size="10.3" text-anchor="middle" transform="rotate(-90 297.7 371.05)" textLength="92" lengthAdjust="spacingAndGlyphs">% of Treg in CD4<tspan font-size="9.5" dy="-3.0">+</tspan><tspan dy="3.0"> T cells</tspan></text>
<text x="336.6" y="419.6" font-size="9.9" text-anchor="end" transform="rotate(-45 336.6 419.6)">Control</text>
<text x="352.55" y="419.6" font-size="9.9" text-anchor="end" transform="rotate(-45 352.55 419.6)">Treg-del</text>
<text x="368.6" y="419.6" font-size="9.9" text-anchor="end" transform="rotate(-45 368.6 419.6)">Treg-del + Dec</text>
<text x="384.7" y="419.6" font-size="9.9" text-anchor="end" transform="rotate(-45 384.7 419.6)">Dec</text>
<line x1="444.4" y1="334.3" x2="444.4" y2="408.9" stroke="#000" stroke-width="1.7" stroke-linecap="butt"/>
<line x1="439.8" y1="408.1" x2="444.4" y2="408.1" stroke="#000" stroke-width="1.4" stroke-linecap="butt"/>
<text x="437.4" y="411" font-size="9.8" text-anchor="end" textLength="5.12" lengthAdjust="spacingAndGlyphs">0</text>
<line x1="439.8" y1="390" x2="444.4" y2="390" stroke="#000" stroke-width="1.4" stroke-linecap="butt"/>
<text x="437.4" y="392.9" font-size="9.8" text-anchor="end" textLength="5.12" lengthAdjust="spacingAndGlyphs">5</text>
<line x1="439.8" y1="372" x2="444.4" y2="372" stroke="#000" stroke-width="1.4" stroke-linecap="butt"/>
<text x="437.4" y="374.9" font-size="9.8" text-anchor="end" textLength="10.23" lengthAdjust="spacingAndGlyphs">10</text>
<line x1="439.8" y1="353.5" x2="444.4" y2="353.5" stroke="#000" stroke-width="1.4" stroke-linecap="butt"/>
<text x="437.4" y="356.4" font-size="9.8" text-anchor="end" textLength="10.23" lengthAdjust="spacingAndGlyphs">15</text>
<line x1="439.8" y1="335" x2="444.4" y2="335" stroke="#000" stroke-width="1.4" stroke-linecap="butt"/>
<text x="437.4" y="337.9" font-size="9.8" text-anchor="end" textLength="10.23" lengthAdjust="spacingAndGlyphs">20</text>
<line x1="443.6" y1="408.1" x2="513.8" y2="408.1" stroke="#000" stroke-width="1.7" stroke-linecap="butt"/>
<rect x="449.2" y="373" width="10.8" height="35.1" fill="#c8102e"/>
<rect x="465.7" y="366.2" width="10.8" height="41.9" fill="#5a86a9"/>
<rect x="481.2" y="370" width="10.8" height="38.1" fill="#3cb54a"/>
<rect x="497.4" y="385" width="10.6" height="23.1" fill="#8d69a6"/>
<line x1="454.6" y1="408.1" x2="454.6" y2="411.9" stroke="#000" stroke-width="1.4" stroke-linecap="butt"/>
<line x1="454.6" y1="367.8" x2="454.6" y2="378" stroke="#000" stroke-width="1.5" stroke-linecap="butt"/>
<line x1="451.5" y1="367.8" x2="457.7" y2="367.8" stroke="#000" stroke-width="1.5" stroke-linecap="butt"/>
<line x1="451.5" y1="378" x2="457.7" y2="378" stroke="#000" stroke-width="1.5" stroke-linecap="butt"/>
<circle cx="454.6" cy="366.5" r="1.05" fill="#000"/>
<circle cx="450.6" cy="370" r="1.05" fill="#000"/>
<circle cx="458.6" cy="370" r="1.05" fill="#000"/>
<circle cx="454.6" cy="373" r="1.05" fill="#000"/>
<circle cx="453.6" cy="377" r="1.05" fill="#000"/>
<circle cx="454.6" cy="378.5" r="1.05" fill="#000"/>
<line x1="471.1" y1="408.1" x2="471.1" y2="411.9" stroke="#000" stroke-width="1.4" stroke-linecap="butt"/>
<line x1="471.1" y1="360.7" x2="471.1" y2="370.5" stroke="#000" stroke-width="1.5" stroke-linecap="butt"/>
<line x1="468" y1="360.7" x2="474.2" y2="360.7" stroke="#000" stroke-width="1.5" stroke-linecap="butt"/>
<line x1="468" y1="370.5" x2="474.2" y2="370.5" stroke="#000" stroke-width="1.5" stroke-linecap="butt"/>
<circle cx="471.1" cy="359.5" r="1.05" fill="#000"/>
<circle cx="467.6" cy="366" r="1.05" fill="#000"/>
<circle cx="474.6" cy="367" r="1.05" fill="#000"/>
<circle cx="471.1" cy="368.5" r="1.05" fill="#000"/>
<circle cx="471.1" cy="370.5" r="1.05" fill="#000"/>
<line x1="486.6" y1="408.1" x2="486.6" y2="411.9" stroke="#000" stroke-width="1.4" stroke-linecap="butt"/>
<line x1="486.6" y1="364.7" x2="486.6" y2="375.8" stroke="#000" stroke-width="1.5" stroke-linecap="butt"/>
<line x1="483.5" y1="364.7" x2="489.7" y2="364.7" stroke="#000" stroke-width="1.5" stroke-linecap="butt"/>
<line x1="483.5" y1="375.8" x2="489.7" y2="375.8" stroke="#000" stroke-width="1.5" stroke-linecap="butt"/>
<circle cx="489.6" cy="364" r="1.05" fill="#000"/>
<circle cx="486.6" cy="368" r="1.05" fill="#000"/>
<circle cx="484.6" cy="372" r="1.05" fill="#000"/>
<circle cx="488.6" cy="372.5" r="1.05" fill="#000"/>
<circle cx="486.6" cy="378.5" r="1.05" fill="#000"/>
<line x1="502.7" y1="408.1" x2="502.7" y2="411.9" stroke="#000" stroke-width="1.4" stroke-linecap="butt"/>
<line x1="502.7" y1="378.5" x2="502.7" y2="391" stroke="#000" stroke-width="1.5" stroke-linecap="butt"/>
<line x1="499.6" y1="378.5" x2="505.8" y2="378.5" stroke="#000" stroke-width="1.5" stroke-linecap="butt"/>
<line x1="499.6" y1="391" x2="505.8" y2="391" stroke="#000" stroke-width="1.5" stroke-linecap="butt"/>
<circle cx="502.7" cy="375.5" r="1.05" fill="#000"/>
<circle cx="499.2" cy="386" r="1.05" fill="#000"/>
<circle cx="506.2" cy="387" r="1.05" fill="#000"/>
<circle cx="502.7" cy="390.5" r="1.05" fill="#000"/>
<line x1="458.2" y1="335.8" x2="505" y2="335.8" stroke="#000" stroke-width="1.7" stroke-linecap="butt"/>
<polygon points="481.6,328.9 482.21,330.36 483.79,330.49 482.58,331.52 482.95,333.06 481.6,332.24 480.25,333.06 480.62,331.52 479.41,330.49 480.99,330.36" fill="#000"/>
<line x1="469.7" y1="346.5" x2="488.5" y2="346.5" stroke="#000" stroke-width="1.7" stroke-linecap="butt"/>
<text x="479.1" y="343.7" font-size="9.1" text-anchor="middle">ns</text>
<text x="419.5" y="371.55" font-size="10.3" text-anchor="middle" transform="rotate(-90 419.5 371.55)" textLength="86" lengthAdjust="spacingAndGlyphs">% of Th1 in CD4<tspan font-size="9.5" dy="-3.0">+</tspan><tspan dy="3.0"> T cells</tspan></text>
<text x="458.6" y="419.6" font-size="9.9" text-anchor="end" transform="rotate(-45 458.6 419.6)">Control</text>
<text x="475.1" y="419.6" font-size="9.9" text-anchor="end" transform="rotate(-45 475.1 419.6)">Treg-del</text>
<text x="490.6" y="419.6" font-size="9.9" text-anchor="end" transform="rotate(-45 490.6 419.6)">Treg-del + Dec</text>
<text x="506.7" y="419.6" font-size="9.9" text-anchor="end" transform="rotate(-45 506.7 419.6)">Dec</text>
<line x1="322.7" y1="505.8" x2="322.7" y2="580.1" stroke="#000" stroke-width="1.7" stroke-linecap="butt"/>
<line x1="318.1" y1="579.3" x2="322.7" y2="579.3" stroke="#000" stroke-width="1.4" stroke-linecap="butt"/>
<text x="315.7" y="582.2" font-size="9.8" text-anchor="end" textLength="5.12" lengthAdjust="spacingAndGlyphs">0</text>
<line x1="318.1" y1="561.3" x2="322.7" y2="561.3" stroke="#000" stroke-width="1.4" stroke-linecap="butt"/>
<text x="315.7" y="564.2" font-size="9.8" text-anchor="end" textLength="5.12" lengthAdjust="spacingAndGlyphs">1</text>
<line x1="318.1" y1="543.1" x2="322.7" y2="543.1" stroke="#000" stroke-width="1.4" stroke-linecap="butt"/>
<text x="315.7" y="546" font-size="9.8" text-anchor="end" textLength="5.12" lengthAdjust="spacingAndGlyphs">2</text>
<line x1="318.1" y1="524.8" x2="322.7" y2="524.8" stroke="#000" stroke-width="1.4" stroke-linecap="butt"/>
<text x="315.7" y="527.7" font-size="9.8" text-anchor="end" textLength="5.12" lengthAdjust="spacingAndGlyphs">3</text>
<line x1="318.1" y1="506.5" x2="322.7" y2="506.5" stroke="#000" stroke-width="1.4" stroke-linecap="butt"/>
<text x="315.7" y="509.4" font-size="9.8" text-anchor="end" textLength="5.12" lengthAdjust="spacingAndGlyphs">4</text>
<line x1="321.9" y1="579.3" x2="390.8" y2="579.3" stroke="#000" stroke-width="1.7" stroke-linecap="butt"/>
<rect x="326.9" y="558.1" width="11" height="21.2" fill="#c8102e"/>
<rect x="342.7" y="543.7" width="11.1" height="35.6" fill="#5a86a9"/>
<rect x="358.7" y="546.5" width="10.5" height="32.8" fill="#3cb54a"/>
<rect x="374.6" y="571" width="10.6" height="8.3" fill="#8d69a6"/>
<line x1="332.4" y1="579.3" x2="332.4" y2="583.1" stroke="#000" stroke-width="1.4" stroke-linecap="butt"/>
<line x1="332.4" y1="552.7" x2="332.4" y2="564.2" stroke="#000" stroke-width="1.5" stroke-linecap="butt"/>
<line x1="329.3" y1="552.7" x2="335.5" y2="552.7" stroke="#000" stroke-width="1.5" stroke-linecap="butt"/>
<line x1="329.3" y1="564.2" x2="335.5" y2="564.2" stroke="#000" stroke-width="1.5" stroke-linecap="butt"/>
<circle cx="330.4" cy="552" r="1.05" fill="#000"/>
<circle cx="334.9" cy="551.5" r="1.05" fill="#000"/>
<circle cx="332.4" cy="557" r="1.05" fill="#000"/>
<circle cx="330.4" cy="560" r="1.05" fill="#000"/>
<circle cx="334.4" cy="561" r="1.05" fill="#000"/>
<circle cx="332.4" cy="564" r="1.05" fill="#000"/>
<line x1="348.25" y1="579.3" x2="348.25" y2="583.1" stroke="#000" stroke-width="1.4" stroke-linecap="butt"/>
<line x1="348.25" y1="536.3" x2="348.25" y2="550.8" stroke="#000" stroke-width="1.5" stroke-linecap="butt"/>
<line x1="345.15" y1="536.3" x2="351.35" y2="536.3" stroke="#000" stroke-width="1.5" stroke-linecap="butt"/>
<line x1="345.15" y1="550.8" x2="351.35" y2="550.8" stroke="#000" stroke-width="1.5" stroke-linecap="butt"/>
<circle cx="348.25" cy="533.5" r="1.05" fill="#000"/>
<circle cx="345.25" cy="539" r="1.05" fill="#000"/>
<circle cx="351.25" cy="540" r="1.05" fill="#000"/>
<circle cx="348.25" cy="545" r="1.05" fill="#000"/>
<circle cx="345.75" cy="548" r="1.05" fill="#000"/>
<circle cx="350.75" cy="548.5" r="1.05" fill="#000"/>
<circle cx="348.25" cy="552.5" r="1.05" fill="#000"/>
<line x1="363.95" y1="579.3" x2="363.95" y2="583.1" stroke="#000" stroke-width="1.4" stroke-linecap="butt"/>
<line x1="363.95" y1="536" x2="363.95" y2="557.5" stroke="#000" stroke-width="1.5" stroke-linecap="butt"/>
<line x1="360.85" y1="536" x2="367.05" y2="536" stroke="#000" stroke-width="1.5" stroke-linecap="butt"/>
<line x1="360.85" y1="557.5" x2="367.05" y2="557.5" stroke="#000" stroke-width="1.5" stroke-linecap="butt"/>
<circle cx="363.95" cy="533.5" r="1.05" fill="#000"/>
<circle cx="360.95" cy="541" r="1.05" fill="#000"/>
<circle cx="366.95" cy="541.5" r="1.05" fill="#000"/>
<circle cx="363.95" cy="549" r="1.05" fill="#000"/>
<circle cx="361.95" cy="555" r="1.05" fill="#000"/>
<circle cx="363.95" cy="560" r="1.05" fill="#000"/>
<line x1="379.9" y1="579.3" x2="379.9" y2="583.1" stroke="#000" stroke-width="1.4" stroke-linecap="butt"/>
<line x1="379.9" y1="566.2" x2="379.9" y2="575.4" stroke="#000" stroke-width="1.5" stroke-linecap="butt"/>
<line x1="376.8" y1="566.2" x2="383" y2="566.2" stroke="#000" stroke-width="1.5" stroke-linecap="butt"/>
<line x1="376.8" y1="575.4" x2="383" y2="575.4" stroke="#000" stroke-width="1.5" stroke-linecap="butt"/>
<circle cx="379.9" cy="565" r="1.05" fill="#000"/>
<circle cx="377.9" cy="568.5" r="1.05" fill="#000"/>
<circle cx="381.9" cy="569.5" r="1.05" fill="#000"/>
<circle cx="379.9" cy="572.5" r="1.05" fill="#000"/>
<circle cx="377.9" cy="575" r="1.05" fill="#000"/>
<circle cx="381.9" cy="575.5" r="1.05" fill="#000"/>
<line x1="334.6" y1="508.1" x2="380.8" y2="508.1" stroke="#000" stroke-width="1.7" stroke-linecap="butt"/>
<polygon points="357.7,501.2 358.31,502.66 359.89,502.79 358.68,503.82 359.05,505.36 357.7,504.54 356.35,505.36 356.72,503.82 355.51,502.79 357.09,502.66" fill="#000"/>
<line x1="347.7" y1="517.1" x2="365.8" y2="517.1" stroke="#000" stroke-width="1.7" stroke-linecap="butt"/>
<text x="356.75" y="514.3" font-size="9.1" text-anchor="middle">ns</text>
<line x1="333.3" y1="525.8" x2="348.1" y2="525.8" stroke="#000" stroke-width="1.7" stroke-linecap="butt"/>
<polygon points="340.7,518.9 341.31,520.36 342.89,520.49 341.68,521.52 342.05,523.06 340.7,522.23 339.35,523.06 339.72,521.52 338.51,520.49 340.09,520.36" fill="#000"/>
<text x="297.7" y="542.9" font-size="10.3" text-anchor="middle" transform="rotate(-90 297.7 542.9)" textLength="92" lengthAdjust="spacingAndGlyphs">% of Th17 in CD4<tspan font-size="9.5" dy="-3.0">+</tspan><tspan dy="3.0"> T cells</tspan></text>
<text x="336.4" y="590.8" font-size="9.9" text-anchor="end" transform="rotate(-45 336.4 590.8)">Control</text>
<text x="352.25" y="590.8" font-size="9.9" text-anchor="end" transform="rotate(-45 352.25 590.8)">Treg-del</text>
<text x="367.95" y="590.8" font-size="9.9" text-anchor="end" transform="rotate(-45 367.95 590.8)">Treg-del + Dec</text>
<text x="383.9" y="590.8" font-size="9.9" text-anchor="end" transform="rotate(-45 383.9 590.8)">Dec</text>
<line x1="444.4" y1="504.9" x2="444.4" y2="579.5" stroke="#000" stroke-width="1.7" stroke-linecap="butt"/>
<line x1="439.8" y1="578.7" x2="444.4" y2="578.7" stroke="#000" stroke-width="1.4" stroke-linecap="butt"/>
<text x="437.4" y="581.6" font-size="9.8" text-anchor="end" textLength="12.79" lengthAdjust="spacingAndGlyphs">0.0</text>
<line x1="439.8" y1="560.4" x2="444.4" y2="560.4" stroke="#000" stroke-width="1.4" stroke-linecap="butt"/>
<text x="437.4" y="563.3" font-size="9.8" text-anchor="end" textLength="12.79" lengthAdjust="spacingAndGlyphs">0.5</text>
<line x1="439.8" y1="542.1" x2="444.4" y2="542.1" stroke="#000" stroke-width="1.4" stroke-linecap="butt"/>
<text x="437.4" y="545" font-size="9.8" text-anchor="end" textLength="12.79" lengthAdjust="spacingAndGlyphs">1.0</text>
<line x1="439.8" y1="523.8" x2="444.4" y2="523.8" stroke="#000" stroke-width="1.4" stroke-linecap="butt"/>
<text x="437.4" y="526.7" font-size="9.8" text-anchor="end" textLength="12.79" lengthAdjust="spacingAndGlyphs">1.5</text>
<line x1="439.8" y1="505.6" x2="444.4" y2="505.6" stroke="#000" stroke-width="1.4" stroke-linecap="butt"/>
<text x="437.4" y="508.5" font-size="9.8" text-anchor="end" textLength="12.79" lengthAdjust="spacingAndGlyphs">2.0</text>
<line x1="443.6" y1="578.7" x2="513.7" y2="578.7" stroke="#000" stroke-width="1.7" stroke-linecap="butt"/>
<rect x="449.4" y="553.7" width="11.4" height="25" fill="#c8102e"/>
<rect x="465.8" y="549.2" width="10.9" height="29.5" fill="#5a86a9"/>
<rect x="481.5" y="557.1" width="10.2" height="21.6" fill="#3cb54a"/>
<rect x="497.5" y="561" width="10.6" height="17.7" fill="#8d69a6"/>
<line x1="455.1" y1="578.7" x2="455.1" y2="582.5" stroke="#000" stroke-width="1.4" stroke-linecap="butt"/>
<line x1="455.1" y1="543.7" x2="455.1" y2="564.2" stroke="#000" stroke-width="1.5" stroke-linecap="butt"/>
<line x1="452" y1="543.7" x2="458.2" y2="543.7" stroke="#000" stroke-width="1.5" stroke-linecap="butt"/>
<line x1="452" y1="564.2" x2="458.2" y2="564.2" stroke="#000" stroke-width="1.5" stroke-linecap="butt"/>
<circle cx="455.1" cy="541" r="1.05" fill="#000"/>
<circle cx="457.1" cy="545" r="1.05" fill="#000"/>
<circle cx="453.1" cy="552" r="1.05" fill="#000"/>
<circle cx="457.1" cy="556" r="1.05" fill="#000"/>
<circle cx="455.1" cy="568" r="1.05" fill="#000"/>
<line x1="471.25" y1="578.7" x2="471.25" y2="582.5" stroke="#000" stroke-width="1.4" stroke-linecap="butt"/>
<line x1="471.25" y1="537.7" x2="471.25" y2="559.8" stroke="#000" stroke-width="1.5" stroke-linecap="butt"/>
<line x1="468.15" y1="537.7" x2="474.35" y2="537.7" stroke="#000" stroke-width="1.5" stroke-linecap="butt"/>
<line x1="468.15" y1="559.8" x2="474.35" y2="559.8" stroke="#000" stroke-width="1.5" stroke-linecap="butt"/>
<circle cx="471.25" cy="534.5" r="1.05" fill="#000"/>
<circle cx="471.25" cy="546" r="1.05" fill="#000"/>
<circle cx="470.25" cy="552" r="1.05" fill="#000"/>
<circle cx="472.25" cy="557" r="1.05" fill="#000"/>
<circle cx="471.25" cy="565.5" r="1.05" fill="#000"/>
<line x1="486.6" y1="578.7" x2="486.6" y2="582.5" stroke="#000" stroke-width="1.4" stroke-linecap="butt"/>
<line x1="486.6" y1="543.7" x2="486.6" y2="571.5" stroke="#000" stroke-width="1.5" stroke-linecap="butt"/>
<line x1="483.5" y1="543.7" x2="489.7" y2="543.7" stroke="#000" stroke-width="1.5" stroke-linecap="butt"/>
<line x1="483.5" y1="571.5" x2="489.7" y2="571.5" stroke="#000" stroke-width="1.5" stroke-linecap="butt"/>
<circle cx="485.6" cy="543" r="1.05" fill="#000"/>
<circle cx="488.6" cy="545" r="1.05" fill="#000"/>
<circle cx="486.6" cy="563" r="1.05" fill="#000"/>
<circle cx="485.6" cy="570" r="1.05" fill="#000"/>
<circle cx="487.6" cy="570" r="1.05" fill="#000"/>
<line x1="502.8" y1="578.7" x2="502.8" y2="582.5" stroke="#000" stroke-width="1.4" stroke-linecap="butt"/>
<line x1="502.8" y1="550.4" x2="502.8" y2="571.5" stroke="#000" stroke-width="1.5" stroke-linecap="butt"/>
<line x1="499.7" y1="550.4" x2="505.9" y2="550.4" stroke="#000" stroke-width="1.5" stroke-linecap="butt"/>
<line x1="499.7" y1="571.5" x2="505.9" y2="571.5" stroke="#000" stroke-width="1.5" stroke-linecap="butt"/>
<circle cx="502.8" cy="543.5" r="1.05" fill="#000"/>
<circle cx="501.3" cy="563.5" r="1.05" fill="#000"/>
<circle cx="504.8" cy="564" r="1.05" fill="#000"/>
<circle cx="502.8" cy="567.5" r="1.05" fill="#000"/>
<text x="419.5" y="542.15" font-size="10.3" text-anchor="middle" transform="rotate(-90 419.5 542.15)" textLength="92" lengthAdjust="spacingAndGlyphs">% of Th22 in CD4<tspan font-size="9.5" dy="-3.0">+</tspan><tspan dy="3.0"> T cells</tspan></text>
<text x="459.1" y="590.2" font-size="9.9" text-anchor="end" transform="rotate(-45 459.1 590.2)">Control</text>
<text x="475.25" y="590.2" font-size="9.9" text-anchor="end" transform="rotate(-45 475.25 590.2)">Treg-del</text>
<text x="490.6" y="590.2" font-size="9.9" text-anchor="end" transform="rotate(-45 490.6 590.2)">Treg-del + Dec</text>
<text x="506.8" y="590.2" font-size="9.9" text-anchor="end" transform="rotate(-45 506.8 590.2)">Dec</text>
<line x1="322.3" y1="681.2" x2="322.3" y2="753.3" stroke="#000" stroke-width="1.7" stroke-linecap="butt"/>
<line x1="317.7" y1="752.5" x2="322.3" y2="752.5" stroke="#000" stroke-width="1.4" stroke-linecap="butt"/>
<text x="315.3" y="755.4" font-size="9.8" text-anchor="end" textLength="5.12" lengthAdjust="spacingAndGlyphs">0</text>
<line x1="317.7" y1="738.5" x2="322.3" y2="738.5" stroke="#000" stroke-width="1.4" stroke-linecap="butt"/>
<text x="315.3" y="741.4" font-size="9.8" text-anchor="end" textLength="5.12" lengthAdjust="spacingAndGlyphs">2</text>
<line x1="317.7" y1="724.5" x2="322.3" y2="724.5" stroke="#000" stroke-width="1.4" stroke-linecap="butt"/>
<text x="315.3" y="727.4" font-size="9.8" text-anchor="end" textLength="5.12" lengthAdjust="spacingAndGlyphs">4</text>
<line x1="317.7" y1="710.3" x2="322.3" y2="710.3" stroke="#000" stroke-width="1.4" stroke-linecap="butt"/>
<text x="315.3" y="713.2" font-size="9.8" text-anchor="end" textLength="5.12" lengthAdjust="spacingAndGlyphs">6</text>
<line x1="317.7" y1="696.2" x2="322.3" y2="696.2" stroke="#000" stroke-width="1.4" stroke-linecap="butt"/>
<text x="315.3" y="699.1" font-size="9.8" text-anchor="end" textLength="5.12" lengthAdjust="spacingAndGlyphs">8</text>
<line x1="317.7" y1="681.9" x2="322.3" y2="681.9" stroke="#000" stroke-width="1.4" stroke-linecap="butt"/>
<text x="315.3" y="684.8" font-size="9.8" text-anchor="end" textLength="10.23" lengthAdjust="spacingAndGlyphs">10</text>
<line x1="321.5" y1="752.5" x2="390.8" y2="752.5" stroke="#000" stroke-width="1.7" stroke-linecap="butt"/>
<rect x="326.9" y="721.3" width="11" height="31.2" fill="#c8102e"/>
<rect x="342.7" y="751" width="10.8" height="1.5" fill="#5a86a9"/>
<rect x="358.3" y="749" width="10.5" height="3.5" fill="#3cb54a"/>
<rect x="373.5" y="707.7" width="10.3" height="44.8" fill="#8d69a6"/>
<line x1="332.4" y1="752.5" x2="332.4" y2="756.3" stroke="#000" stroke-width="1.4" stroke-linecap="butt"/>
<line x1="332.4" y1="716" x2="332.4" y2="726.2" stroke="#000" stroke-width="1.5" stroke-linecap="butt"/>
<line x1="329.3" y1="716" x2="335.5" y2="716" stroke="#000" stroke-width="1.5" stroke-linecap="butt"/>
<line x1="329.3" y1="726.2" x2="335.5" y2="726.2" stroke="#000" stroke-width="1.5" stroke-linecap="butt"/>
<circle cx="330.4" cy="716.5" r="1.05" fill="#000"/>
<circle cx="334.4" cy="716" r="1.05" fill="#000"/>
<circle cx="332.4" cy="720" r="1.05" fill="#000"/>
<circle cx="331.4" cy="724" r="1.05" fill="#000"/>
<circle cx="333.4" cy="726" r="1.05" fill="#000"/>
<circle cx="332.4" cy="729" r="1.05" fill="#000"/>
<line x1="348.1" y1="752.5" x2="348.1" y2="756.3" stroke="#000" stroke-width="1.4" stroke-linecap="butt"/>
<line x1="348.1" y1="750" x2="348.1" y2="751.5" stroke="#000" stroke-width="1.5" stroke-linecap="butt"/>
<line x1="346.1" y1="750" x2="350.1" y2="750" stroke="#000" stroke-width="1.5" stroke-linecap="butt"/>
<line x1="346.1" y1="751.5" x2="350.1" y2="751.5" stroke="#000" stroke-width="1.5" stroke-linecap="butt"/>
<circle cx="346.1" cy="750.5" r="1.05" fill="#000"/>
<circle cx="350.1" cy="750.5" r="1.05" fill="#000"/>
<line x1="363.55" y1="752.5" x2="363.55" y2="756.3" stroke="#000" stroke-width="1.4" stroke-linecap="butt"/>
<line x1="363.55" y1="748" x2="363.55" y2="751" stroke="#000" stroke-width="1.5" stroke-linecap="butt"/>
<line x1="361.55" y1="748" x2="365.55" y2="748" stroke="#000" stroke-width="1.5" stroke-linecap="butt"/>
<line x1="361.55" y1="751" x2="365.55" y2="751" stroke="#000" stroke-width="1.5" stroke-linecap="butt"/>
<circle cx="363.55" cy="747.5" r="1.05" fill="#000"/>
<circle cx="361.55" cy="749.5" r="1.05" fill="#000"/>
<circle cx="365.55" cy="749.5" r="1.05" fill="#000"/>
<line x1="378.65" y1="752.5" x2="378.65" y2="756.3" stroke="#000" stroke-width="1.4" stroke-linecap="butt"/>
<line x1="378.65" y1="695.2" x2="378.65" y2="719.2" stroke="#000" stroke-width="1.5" stroke-linecap="butt"/>
<line x1="375.55" y1="695.2" x2="381.75" y2="695.2" stroke="#000" stroke-width="1.5" stroke-linecap="butt"/>
<line x1="375.55" y1="719.2" x2="381.75" y2="719.2" stroke="#000" stroke-width="1.5" stroke-linecap="butt"/>
<circle cx="381.15" cy="694.5" r="1.05" fill="#000"/>
<circle cx="378.65" cy="700" r="1.05" fill="#000"/>
<circle cx="378.65" cy="706" r="1.05" fill="#000"/>
<circle cx="377.15" cy="713" r="1.05" fill="#000"/>
<circle cx="380.15" cy="714" r="1.05" fill="#000"/>
<circle cx="378.65" cy="720" r="1.05" fill="#000"/>
<line x1="331.7" y1="680" x2="377.9" y2="680" stroke="#000" stroke-width="1.7" stroke-linecap="butt"/>
<polygon points="352.5,673.1 353.11,674.56 354.69,674.69 353.48,675.72 353.85,677.26 352.5,676.43 351.15,677.26 351.52,675.72 350.31,674.69 351.89,674.56" fill="#000"/>
<polygon points="357.1,673.1 357.71,674.56 359.29,674.69 358.08,675.72 358.45,677.26 357.1,676.43 355.75,677.26 356.12,675.72 354.91,674.69 356.49,674.56" fill="#000"/>
<line x1="345.2" y1="690.4" x2="363.5" y2="690.4" stroke="#000" stroke-width="1.7" stroke-linecap="butt"/>
<text x="354.35" y="687.6" font-size="9.1" text-anchor="middle">ns</text>
<line x1="331.7" y1="700" x2="349" y2="700" stroke="#000" stroke-width="1.7" stroke-linecap="butt"/>
<polygon points="335.75,693.1 336.36,694.56 337.94,694.69 336.73,695.72 337.1,697.26 335.75,696.43 334.4,697.26 334.77,695.72 333.56,694.69 335.14,694.56" fill="#000"/>
<polygon points="340.35,693.1 340.96,694.56 342.54,694.69 341.33,695.72 341.7,697.26 340.35,696.43 339,697.26 339.37,695.72 338.16,694.69 339.74,694.56" fill="#000"/>
<polygon points="344.95,693.1 345.56,694.56 347.14,694.69 345.93,695.72 346.3,697.26 344.95,696.43 343.6,697.26 343.97,695.72 342.76,694.69 344.34,694.56" fill="#000"/>
<text x="297.7" y="717.2" font-size="10.3" text-anchor="middle" transform="rotate(-90 297.7 717.2)" textLength="92" lengthAdjust="spacingAndGlyphs">% of Treg in CD4<tspan font-size="9.5" dy="-3.0">+</tspan><tspan dy="3.0"> T cells</tspan></text>
<text x="336.4" y="764" font-size="9.9" text-anchor="end" transform="rotate(-45 336.4 764)">Isotype Ab</text>
<text x="352.1" y="764" font-size="9.9" text-anchor="end" transform="rotate(-45 352.1 764)">Anti-CD25 Ab</text>
<text x="367.55" y="764" font-size="9.9" text-anchor="end" transform="rotate(-45 367.55 764)">Anti-CD25 Ab + Dec</text>
<text x="382.65" y="764" font-size="9.9" text-anchor="end" transform="rotate(-45 382.65 764)">Isotype Ab + Dec</text>
<line x1="444.6" y1="680.6" x2="444.6" y2="753.9" stroke="#000" stroke-width="1.7" stroke-linecap="butt"/>
<line x1="440" y1="753.1" x2="444.6" y2="753.1" stroke="#000" stroke-width="1.4" stroke-linecap="butt"/>
<text x="437.6" y="756" font-size="9.8" text-anchor="end" textLength="5.12" lengthAdjust="spacingAndGlyphs">0</text>
<line x1="440" y1="734.8" x2="444.6" y2="734.8" stroke="#000" stroke-width="1.4" stroke-linecap="butt"/>
<text x="437.6" y="737.7" font-size="9.8" text-anchor="end" textLength="5.12" lengthAdjust="spacingAndGlyphs">5</text>
<line x1="440" y1="716.9" x2="444.6" y2="716.9" stroke="#000" stroke-width="1.4" stroke-linecap="butt"/>
<text x="437.6" y="719.8" font-size="9.8" text-anchor="end" textLength="10.23" lengthAdjust="spacingAndGlyphs">10</text>
<line x1="440" y1="699.2" x2="444.6" y2="699.2" stroke="#000" stroke-width="1.4" stroke-linecap="butt"/>
<text x="437.6" y="702.1" font-size="9.8" text-anchor="end" textLength="10.23" lengthAdjust="spacingAndGlyphs">15</text>
<line x1="440" y1="681.3" x2="444.6" y2="681.3" stroke="#000" stroke-width="1.4" stroke-linecap="butt"/>
<text x="437.6" y="684.2" font-size="9.8" text-anchor="end" textLength="10.23" lengthAdjust="spacingAndGlyphs">20</text>
<line x1="443.8" y1="753.1" x2="513.7" y2="753.1" stroke="#000" stroke-width="1.7" stroke-linecap="butt"/>
<rect x="449.2" y="718.8" width="10.6" height="34.3" fill="#c8102e"/>
<rect x="465.2" y="709.6" width="10.6" height="43.5" fill="#5a86a9"/>
<rect x="480.6" y="711.7" width="10.6" height="41.4" fill="#3cb54a"/>
<rect x="496.3" y="728.1" width="10.6" height="25" fill="#8d69a6"/>
<line x1="454.5" y1="753.1" x2="454.5" y2="756.9" stroke="#000" stroke-width="1.4" stroke-linecap="butt"/>
<line x1="454.5" y1="713.1" x2="454.5" y2="724.6" stroke="#000" stroke-width="1.5" stroke-linecap="butt"/>
<line x1="451.4" y1="713.1" x2="457.6" y2="713.1" stroke="#000" stroke-width="1.5" stroke-linecap="butt"/>
<line x1="451.4" y1="724.6" x2="457.6" y2="724.6" stroke="#000" stroke-width="1.5" stroke-linecap="butt"/>
<circle cx="454.5" cy="712" r="1.05" fill="#000"/>
<circle cx="453" cy="717" r="1.05" fill="#000"/>
<circle cx="456" cy="718" r="1.05" fill="#000"/>
<circle cx="454.5" cy="722" r="1.05" fill="#000"/>
<circle cx="454.5" cy="725.5" r="1.05" fill="#000"/>
<line x1="470.5" y1="753.1" x2="470.5" y2="756.9" stroke="#000" stroke-width="1.4" stroke-linecap="butt"/>
<line x1="470.5" y1="705.4" x2="470.5" y2="715.4" stroke="#000" stroke-width="1.5" stroke-linecap="butt"/>
<line x1="467.4" y1="705.4" x2="473.6" y2="705.4" stroke="#000" stroke-width="1.5" stroke-linecap="butt"/>
<line x1="467.4" y1="715.4" x2="473.6" y2="715.4" stroke="#000" stroke-width="1.5" stroke-linecap="butt"/>
<circle cx="467.5" cy="703.5" r="1.05" fill="#000"/>
<circle cx="472.5" cy="704.5" r="1.05" fill="#000"/>
<circle cx="470.5" cy="708" r="1.05" fill="#000"/>
<circle cx="468.5" cy="711.5" r="1.05" fill="#000"/>
<circle cx="473" cy="712" r="1.05" fill="#000"/>
<circle cx="470.5" cy="716.5" r="1.05" fill="#000"/>
<line x1="485.9" y1="753.1" x2="485.9" y2="756.9" stroke="#000" stroke-width="1.4" stroke-linecap="butt"/>
<line x1="485.9" y1="706.9" x2="485.9" y2="716.5" stroke="#000" stroke-width="1.5" stroke-linecap="butt"/>
<line x1="482.8" y1="706.9" x2="489" y2="706.9" stroke="#000" stroke-width="1.5" stroke-linecap="butt"/>
<line x1="482.8" y1="716.5" x2="489" y2="716.5" stroke="#000" stroke-width="1.5" stroke-linecap="butt"/>
<circle cx="485.9" cy="706" r="1.05" fill="#000"/>
<circle cx="483.9" cy="709.5" r="1.05" fill="#000"/>
<circle cx="487.9" cy="709.5" r="1.05" fill="#000"/>
<circle cx="485.9" cy="713" r="1.05" fill="#000"/>
<circle cx="483.4" cy="716.5" r="1.05" fill="#000"/>
<circle cx="487.9" cy="716.5" r="1.05" fill="#000"/>
<line x1="501.6" y1="753.1" x2="501.6" y2="756.9" stroke="#000" stroke-width="1.4" stroke-linecap="butt"/>
<line x1="501.6" y1="722.3" x2="501.6" y2="734.6" stroke="#000" stroke-width="1.5" stroke-linecap="butt"/>
<line x1="498.5" y1="722.3" x2="504.7" y2="722.3" stroke="#000" stroke-width="1.5" stroke-linecap="butt"/>
<line x1="498.5" y1="734.6" x2="504.7" y2="734.6" stroke="#000" stroke-width="1.5" stroke-linecap="butt"/>
<circle cx="501.6" cy="720.5" r="1.05" fill="#000"/>
<circle cx="499.6" cy="727" r="1.05" fill="#000"/>
<circle cx="503.6" cy="728" r="1.05" fill="#000"/>
<circle cx="501.6" cy="731" r="1.05" fill="#000"/>
<circle cx="500.6" cy="734.5" r="1.05" fill="#000"/>
<line x1="455" y1="681.9" x2="499.8" y2="681.9" stroke="#000" stroke-width="1.7" stroke-linecap="butt"/>
<polygon points="472.8,675 473.41,676.46 474.99,676.59 473.78,677.62 474.15,679.16 472.8,678.33 471.45,679.16 471.82,677.62 470.61,676.59 472.19,676.46" fill="#000"/>
<polygon points="477.4,675 478.01,676.46 479.59,676.59 478.38,677.62 478.75,679.16 477.4,678.33 476.05,679.16 476.42,677.62 475.21,676.59 476.79,676.46" fill="#000"/>
<polygon points="482,675 482.61,676.46 484.19,676.59 482.98,677.62 483.35,679.16 482,678.33 480.65,679.16 481.02,677.62 479.81,676.59 481.39,676.46" fill="#000"/>
<line x1="469.6" y1="692.3" x2="489.6" y2="692.3" stroke="#000" stroke-width="1.7" stroke-linecap="butt"/>
<text x="479.6" y="689.5" font-size="9.1" text-anchor="middle">ns</text>
<line x1="454.2" y1="699.6" x2="472.9" y2="699.6" stroke="#000" stroke-width="1.7" stroke-linecap="butt"/>
<polygon points="463.55,692.7 464.16,694.16 465.74,694.29 464.53,695.32 464.9,696.86 463.55,696.03 462.2,696.86 462.57,695.32 461.36,694.29 462.94,694.16" fill="#000"/>
<text x="419.5" y="717.2" font-size="10.3" text-anchor="middle" transform="rotate(-90 419.5 717.2)" textLength="86" lengthAdjust="spacingAndGlyphs">% of Th1 in CD4<tspan font-size="9.5" dy="-3.0">+</tspan><tspan dy="3.0"> T cells</tspan></text>
<text x="458.5" y="764.6" font-size="9.9" text-anchor="end" transform="rotate(-45 458.5 764.6)">Isotype Ab</text>
<text x="474.5" y="764.6" font-size="9.9" text-anchor="end" transform="rotate(-45 474.5 764.6)">Anti-CD25 Ab</text>
<text x="489.9" y="764.6" font-size="9.9" text-anchor="end" transform="rotate(-45 489.9 764.6)">Anti-CD25 Ab + Dec</text>
<text x="505.6" y="764.6" font-size="9.9" text-anchor="end" transform="rotate(-45 505.6 764.6)">Isotype Ab + Dec</text>
<line x1="322.7" y1="868.1" x2="322.7" y2="941.8" stroke="#000" stroke-width="1.7" stroke-linecap="butt"/>
<line x1="318.1" y1="941" x2="322.7" y2="941" stroke="#000" stroke-width="1.4" stroke-linecap="butt"/>
<text x="315.7" y="943.9" font-size="9.8" text-anchor="end" textLength="5.12" lengthAdjust="spacingAndGlyphs">0</text>
<line x1="318.1" y1="922.9" x2="322.7" y2="922.9" stroke="#000" stroke-width="1.4" stroke-linecap="butt"/>
<text x="315.7" y="925.8" font-size="9.8" text-anchor="end" textLength="5.12" lengthAdjust="spacingAndGlyphs">1</text>
<line x1="318.1" y1="905" x2="322.7" y2="905" stroke="#000" stroke-width="1.4" stroke-linecap="butt"/>
<text x="315.7" y="907.9" font-size="9.8" text-anchor="end" textLength="5.12" lengthAdjust="spacingAndGlyphs">2</text>
<line x1="318.1" y1="887.1" x2="322.7" y2="887.1" stroke="#000" stroke-width="1.4" stroke-linecap="butt"/>
<text x="315.7" y="890" font-size="9.8" text-anchor="end" textLength="5.12" lengthAdjust="spacingAndGlyphs">3</text>
<line x1="318.1" y1="868.8" x2="322.7" y2="868.8" stroke="#000" stroke-width="1.4" stroke-linecap="butt"/>
<text x="315.7" y="871.7" font-size="9.8" text-anchor="end" textLength="5.12" lengthAdjust="spacingAndGlyphs">4</text>
<line x1="321.9" y1="941" x2="390.8" y2="941" stroke="#000" stroke-width="1.7" stroke-linecap="butt"/>
<rect x="326.9" y="920" width="10.6" height="21" fill="#c8102e"/>
<rect x="342.3" y="906.5" width="11.2" height="34.5" fill="#5a86a9"/>
<rect x="358.1" y="906.5" width="10.7" height="34.5" fill="#3cb54a"/>
<rect x="374" y="929.6" width="10.6" height="11.4" fill="#8d69a6"/>
<line x1="332.2" y1="941" x2="332.2" y2="944.8" stroke="#000" stroke-width="1.4" stroke-linecap="butt"/>
<line x1="332.2" y1="914.6" x2="332.2" y2="924.6" stroke="#000" stroke-width="1.5" stroke-linecap="butt"/>
<line x1="329.1" y1="914.6" x2="335.3" y2="914.6" stroke="#000" stroke-width="1.5" stroke-linecap="butt"/>
<line x1="329.1" y1="924.6" x2="335.3" y2="924.6" stroke="#000" stroke-width="1.5" stroke-linecap="butt"/>
<circle cx="332.2" cy="913" r="1.05" fill="#000"/>
<circle cx="329.7" cy="919" r="1.05" fill="#000"/>
<circle cx="334.7" cy="919" r="1.05" fill="#000"/>
<circle cx="332.2" cy="923" r="1.05" fill="#000"/>
<circle cx="331.2" cy="926.5" r="1.05" fill="#000"/>
<circle cx="332.2" cy="928.5" r="1.05" fill="#000"/>
<line x1="347.9" y1="941" x2="347.9" y2="944.8" stroke="#000" stroke-width="1.4" stroke-linecap="butt"/>
<line x1="347.9" y1="898.8" x2="347.9" y2="913.7" stroke="#000" stroke-width="1.5" stroke-linecap="butt"/>
<line x1="344.8" y1="898.8" x2="351" y2="898.8" stroke="#000" stroke-width="1.5" stroke-linecap="butt"/>
<line x1="344.8" y1="913.7" x2="351" y2="913.7" stroke="#000" stroke-width="1.5" stroke-linecap="butt"/>
<circle cx="347.9" cy="896.5" r="1.05" fill="#000"/>
<circle cx="344.9" cy="906" r="1.05" fill="#000"/>
<circle cx="350.9" cy="907" r="1.05" fill="#000"/>
<circle cx="347.9" cy="910" r="1.05" fill="#000"/>
<circle cx="347.9" cy="917" r="1.05" fill="#000"/>
<line x1="363.45" y1="941" x2="363.45" y2="944.8" stroke="#000" stroke-width="1.4" stroke-linecap="butt"/>
<line x1="363.45" y1="901.2" x2="363.45" y2="911.7" stroke="#000" stroke-width="1.5" stroke-linecap="butt"/>
<line x1="360.35" y1="901.2" x2="366.55" y2="901.2" stroke="#000" stroke-width="1.5" stroke-linecap="butt"/>
<line x1="360.35" y1="911.7" x2="366.55" y2="911.7" stroke="#000" stroke-width="1.5" stroke-linecap="butt"/>
<circle cx="363.45" cy="900.5" r="1.05" fill="#000"/>
<circle cx="361.45" cy="905" r="1.05" fill="#000"/>
<circle cx="365.45" cy="906" r="1.05" fill="#000"/>
<circle cx="363.45" cy="909" r="1.05" fill="#000"/>
<circle cx="363.45" cy="913" r="1.05" fill="#000"/>
<line x1="379.3" y1="941" x2="379.3" y2="944.8" stroke="#000" stroke-width="1.4" stroke-linecap="butt"/>
<line x1="379.3" y1="924.6" x2="379.3" y2="934.8" stroke="#000" stroke-width="1.5" stroke-linecap="butt"/>
<line x1="376.2" y1="924.6" x2="382.4" y2="924.6" stroke="#000" stroke-width="1.5" stroke-linecap="butt"/>
<line x1="376.2" y1="934.8" x2="382.4" y2="934.8" stroke="#000" stroke-width="1.5" stroke-linecap="butt"/>
<circle cx="381.3" cy="922.5" r="1.05" fill="#000"/>
<circle cx="377.3" cy="927" r="1.05" fill="#000"/>
<circle cx="381.3" cy="929" r="1.05" fill="#000"/>
<circle cx="379.3" cy="931" r="1.05" fill="#000"/>
<circle cx="377.3" cy="934" r="1.05" fill="#000"/>
<circle cx="380.3" cy="935" r="1.05" fill="#000"/>
<line x1="333.1" y1="873.7" x2="379.4" y2="873.7" stroke="#000" stroke-width="1.7" stroke-linecap="butt"/>
<polygon points="356.25,866.8 356.86,868.26 358.44,868.39 357.23,869.42 357.6,870.96 356.25,870.13 354.9,870.96 355.27,869.42 354.06,868.39 355.64,868.26" fill="#000"/>
<line x1="348.1" y1="883.5" x2="361.9" y2="883.5" stroke="#000" stroke-width="1.7" stroke-linecap="butt"/>
<text x="355" y="880.7" font-size="9.1" text-anchor="middle">ns</text>
<line x1="333.1" y1="892.5" x2="348.1" y2="892.5" stroke="#000" stroke-width="1.7" stroke-linecap="butt"/>
<polygon points="338.3,885.6 338.91,887.06 340.49,887.19 339.28,888.22 339.65,889.76 338.3,888.93 336.95,889.76 337.32,888.22 336.11,887.19 337.69,887.06" fill="#000"/>
<polygon points="342.9,885.6 343.51,887.06 345.09,887.19 343.88,888.22 344.25,889.76 342.9,888.93 341.55,889.76 341.92,888.22 340.71,887.19 342.29,887.06" fill="#000"/>
<text x="297.7" y="904.9" font-size="10.3" text-anchor="middle" transform="rotate(-90 297.7 904.9)" textLength="92" lengthAdjust="spacingAndGlyphs">% of Th17 in CD4<tspan font-size="9.5" dy="-3.0">+</tspan><tspan dy="3.0"> T cells</tspan></text>
<text x="336.2" y="952.5" font-size="9.9" text-anchor="end" transform="rotate(-45 336.2 952.5)">Isotype Ab</text>
<text x="351.9" y="952.5" font-size="9.9" text-anchor="end" transform="rotate(-45 351.9 952.5)">Anti-CD25 Ab</text>
<text x="367.45" y="952.5" font-size="9.9" text-anchor="end" transform="rotate(-45 367.45 952.5)">Anti-CD25 Ab + Dec</text>
<text x="383.3" y="952.5" font-size="9.9" text-anchor="end" transform="rotate(-45 383.3 952.5)">Isotype Ab + Dec</text>
<line x1="444.6" y1="867.8" x2="444.6" y2="941.4" stroke="#000" stroke-width="1.7" stroke-linecap="butt"/>
<line x1="440" y1="940.6" x2="444.6" y2="940.6" stroke="#000" stroke-width="1.4" stroke-linecap="butt"/>
<text x="437.6" y="943.5" font-size="9.8" text-anchor="end" textLength="12.79" lengthAdjust="spacingAndGlyphs">0.0</text>
<line x1="440" y1="922.7" x2="444.6" y2="922.7" stroke="#000" stroke-width="1.4" stroke-linecap="butt"/>
<text x="437.6" y="925.6" font-size="9.8" text-anchor="end" textLength="12.79" lengthAdjust="spacingAndGlyphs">0.5</text>
<line x1="440" y1="904.6" x2="444.6" y2="904.6" stroke="#000" stroke-width="1.4" stroke-linecap="butt"/>
<text x="437.6" y="907.5" font-size="9.8" text-anchor="end" textLength="12.79" lengthAdjust="spacingAndGlyphs">1.0</text>
<line x1="440" y1="886.7" x2="444.6" y2="886.7" stroke="#000" stroke-width="1.4" stroke-linecap="butt"/>
<text x="437.6" y="889.6" font-size="9.8" text-anchor="end" textLength="12.79" lengthAdjust="spacingAndGlyphs">1.5</text>
<line x1="440" y1="868.5" x2="444.6" y2="868.5" stroke="#000" stroke-width="1.4" stroke-linecap="butt"/>
<text x="437.6" y="871.4" font-size="9.8" text-anchor="end" textLength="12.79" lengthAdjust="spacingAndGlyphs">2.0</text>
<line x1="443.8" y1="940.6" x2="513.7" y2="940.6" stroke="#000" stroke-width="1.7" stroke-linecap="butt"/>
<rect x="449.2" y="914" width="10.6" height="26.6" fill="#c8102e"/>
<rect x="465.2" y="909.2" width="10.6" height="31.4" fill="#5a86a9"/>
<rect x="480.6" y="914.6" width="10.6" height="26" fill="#3cb54a"/>
<rect x="496.3" y="921.3" width="10.6" height="19.3" fill="#8d69a6"/>
<line x1="454.5" y1="940.6" x2="454.5" y2="944.4" stroke="#000" stroke-width="1.4" stroke-linecap="butt"/>
<line x1="454.5" y1="903.7" x2="454.5" y2="926.2" stroke="#000" stroke-width="1.5" stroke-linecap="butt"/>
<line x1="451.4" y1="903.7" x2="457.6" y2="903.7" stroke="#000" stroke-width="1.5" stroke-linecap="butt"/>
<line x1="451.4" y1="926.2" x2="457.6" y2="926.2" stroke="#000" stroke-width="1.5" stroke-linecap="butt"/>
<circle cx="454.5" cy="900.5" r="1.05" fill="#000"/>
<circle cx="454.5" cy="907" r="1.05" fill="#000"/>
<circle cx="453.5" cy="913" r="1.05" fill="#000"/>
<circle cx="455.5" cy="918" r="1.05" fill="#000"/>
<circle cx="454.5" cy="921" r="1.05" fill="#000"/>
<circle cx="454.5" cy="928" r="1.05" fill="#000"/>
<line x1="470.5" y1="940.6" x2="470.5" y2="944.4" stroke="#000" stroke-width="1.4" stroke-linecap="butt"/>
<line x1="470.5" y1="902.1" x2="470.5" y2="916.9" stroke="#000" stroke-width="1.5" stroke-linecap="butt"/>
<line x1="467.4" y1="902.1" x2="473.6" y2="902.1" stroke="#000" stroke-width="1.5" stroke-linecap="butt"/>
<line x1="467.4" y1="916.9" x2="473.6" y2="916.9" stroke="#000" stroke-width="1.5" stroke-linecap="butt"/>
<circle cx="470.5" cy="900" r="1.05" fill="#000"/>
<circle cx="468.5" cy="904" r="1.05" fill="#000"/>
<circle cx="472.5" cy="905" r="1.05" fill="#000"/>
<circle cx="470.5" cy="910" r="1.05" fill="#000"/>
<circle cx="469.5" cy="914" r="1.05" fill="#000"/>
<circle cx="471.5" cy="917" r="1.05" fill="#000"/>
<line x1="485.9" y1="940.6" x2="485.9" y2="944.4" stroke="#000" stroke-width="1.4" stroke-linecap="butt"/>
<line x1="485.9" y1="908.5" x2="485.9" y2="920.4" stroke="#000" stroke-width="1.5" stroke-linecap="butt"/>
<line x1="482.8" y1="908.5" x2="489" y2="908.5" stroke="#000" stroke-width="1.5" stroke-linecap="butt"/>
<line x1="482.8" y1="920.4" x2="489" y2="920.4" stroke="#000" stroke-width="1.5" stroke-linecap="butt"/>
<circle cx="485.9" cy="906" r="1.05" fill="#000"/>
<circle cx="483.9" cy="911" r="1.05" fill="#000"/>
<circle cx="487.9" cy="912" r="1.05" fill="#000"/>
<circle cx="485.9" cy="916" r="1.05" fill="#000"/>
<circle cx="485.9" cy="922.5" r="1.05" fill="#000"/>
<line x1="501.6" y1="940.6" x2="501.6" y2="944.4" stroke="#000" stroke-width="1.4" stroke-linecap="butt"/>
<line x1="501.6" y1="915.6" x2="501.6" y2="927.1" stroke="#000" stroke-width="1.5" stroke-linecap="butt"/>
<line x1="498.5" y1="915.6" x2="504.7" y2="915.6" stroke="#000" stroke-width="1.5" stroke-linecap="butt"/>
<line x1="498.5" y1="927.1" x2="504.7" y2="927.1" stroke="#000" stroke-width="1.5" stroke-linecap="butt"/>
<circle cx="501.6" cy="912.5" r="1.05" fill="#000"/>
<circle cx="499.6" cy="918" r="1.05" fill="#000"/>
<circle cx="503.6" cy="919" r="1.05" fill="#000"/>
<circle cx="501.6" cy="922" r="1.05" fill="#000"/>
<circle cx="500.1" cy="925" r="1.05" fill="#000"/>
<circle cx="503.1" cy="926" r="1.05" fill="#000"/>
<text x="419.5" y="904.55" font-size="10.3" text-anchor="middle" transform="rotate(-90 419.5 904.55)" textLength="92" lengthAdjust="spacingAndGlyphs">% of Th22 in CD4<tspan font-size="9.5" dy="-3.0">+</tspan><tspan dy="3.0"> T cells</tspan></text>
<text x="458.5" y="952.1" font-size="9.9" text-anchor="end" transform="rotate(-45 458.5 952.1)">Isotype Ab</text>
<text x="474.5" y="952.1" font-size="9.9" text-anchor="end" transform="rotate(-45 474.5 952.1)">Anti-CD25 Ab</text>
<text x="489.9" y="952.1" font-size="9.9" text-anchor="end" transform="rotate(-45 489.9 952.1)">Anti-CD25 Ab + Dec</text>
<text x="505.6" y="952.1" font-size="9.9" text-anchor="end" transform="rotate(-45 505.6 952.1)">Isotype Ab + Dec</text>
<text font-size="17" font-weight="bold" transform="translate(10.33 22.9) scale(1.114 1)">A</text>
<text font-size="17" font-weight="bold" transform="translate(288.21 22.7) scale(0.955 1)">B</text>
<text font-size="17" font-weight="bold" transform="translate(410.33 22.9) scale(0.967 1)">C</text>
<text font-size="17" font-weight="bold" transform="translate(289.7 165.5) scale(1.141 1)">D</text>
<text font-size="17" font-weight="bold" transform="translate(413.59 165.5) scale(0.891 1)">E</text>
<text font-size="17" font-weight="bold" transform="translate(11.8 314.9) scale(0.968 1)">F</text>
<text font-size="17" font-weight="bold" transform="translate(289.27 312.4) scale(1.046 1)">G</text>
<text font-size="17" font-weight="bold" transform="translate(409.69 311.9) scale(1.061 1)">H</text>
<text font-size="17" font-weight="bold" transform="translate(290.85 483.4) scale(1.103 1)">I</text>
<text font-size="17" font-weight="bold" transform="translate(411.16 483.4) scale(0.946 1)">J</text>
<text font-size="17" font-weight="bold" transform="translate(11.07 677.9) scale(1.034 1)">K</text>
<text font-size="17" font-weight="bold" transform="translate(290.2 655.8) scale(0.883 1)">L</text>
<text font-size="17" font-weight="bold" transform="translate(407.61 655.8) scale(1.220 1)">M</text>
<text font-size="17" font-weight="bold" transform="translate(286.88 843.7) scale(1.201 1)">N</text>
<text font-size="17" font-weight="bold" transform="translate(409.13 843.6) scale(1.101 1)">O</text>
<line x1="58.2" y1="311.65" x2="58.2" y2="484.15" stroke="#000" stroke-width="1.6" stroke-linecap="butt"/>
<line x1="53.4" y1="483.5" x2="58.2" y2="483.5" stroke="#000" stroke-width="1.3" stroke-linecap="butt"/>
<text x="50.9" y="486.4" font-size="9.8" text-anchor="end" textLength="5.12" lengthAdjust="spacingAndGlyphs">0</text>
<line x1="53.4" y1="458.95" x2="58.2" y2="458.95" stroke="#000" stroke-width="1.3" stroke-linecap="butt"/>
<text x="50.9" y="461.85" font-size="9.8" text-anchor="end" textLength="15.35" lengthAdjust="spacingAndGlyphs">200</text>
<line x1="53.4" y1="434.4" x2="58.2" y2="434.4" stroke="#000" stroke-width="1.3" stroke-linecap="butt"/>
<text x="50.9" y="437.3" font-size="9.8" text-anchor="end" textLength="15.35" lengthAdjust="spacingAndGlyphs">400</text>
<line x1="53.4" y1="409.85" x2="58.2" y2="409.85" stroke="#000" stroke-width="1.3" stroke-linecap="butt"/>
<text x="50.9" y="412.75" font-size="9.8" text-anchor="end" textLength="15.35" lengthAdjust="spacingAndGlyphs">600</text>
<line x1="53.4" y1="385.3" x2="58.2" y2="385.3" stroke="#000" stroke-width="1.3" stroke-linecap="butt"/>
<text x="50.9" y="388.2" font-size="9.8" text-anchor="end" textLength="15.35" lengthAdjust="spacingAndGlyphs">800</text>
<line x1="53.4" y1="360.75" x2="58.2" y2="360.75" stroke="#000" stroke-width="1.3" stroke-linecap="butt"/>
<text x="50.9" y="363.65" font-size="9.8" text-anchor="end" textLength="20.46" lengthAdjust="spacingAndGlyphs">1000</text>
<line x1="53.4" y1="336.2" x2="58.2" y2="336.2" stroke="#000" stroke-width="1.3" stroke-linecap="butt"/>
<text x="50.9" y="339.1" font-size="9.8" text-anchor="end" textLength="20.46" lengthAdjust="spacingAndGlyphs">1200</text>
<line x1="53.4" y1="311.65" x2="58.2" y2="311.65" stroke="#000" stroke-width="1.3" stroke-linecap="butt"/>
<text x="50.9" y="314.55" font-size="9.8" text-anchor="end" textLength="20.46" lengthAdjust="spacingAndGlyphs">1400</text>
<line x1="57.4" y1="483.5" x2="271.25" y2="483.5" stroke="#000" stroke-width="1.6" stroke-linecap="butt"/>
<line x1="58.2" y1="483.5" x2="58.2" y2="488.3" stroke="#000" stroke-width="1.3" stroke-linecap="butt"/>
<text x="58.2" y="498.5" font-size="9.8" text-anchor="middle" textLength="5.12" lengthAdjust="spacingAndGlyphs">0</text>
<line x1="111.3" y1="483.5" x2="111.3" y2="488.3" stroke="#000" stroke-width="1.3" stroke-linecap="butt"/>
<text x="111.3" y="498.5" font-size="9.8" text-anchor="middle" textLength="5.12" lengthAdjust="spacingAndGlyphs">7</text>
<line x1="164.4" y1="483.5" x2="164.4" y2="488.3" stroke="#000" stroke-width="1.3" stroke-linecap="butt"/>
<text x="164.4" y="498.5" font-size="9.8" text-anchor="middle" textLength="10.23" lengthAdjust="spacingAndGlyphs">14</text>
<line x1="217.5" y1="483.5" x2="217.5" y2="488.3" stroke="#000" stroke-width="1.3" stroke-linecap="butt"/>
<text x="217.5" y="498.5" font-size="9.8" text-anchor="middle" textLength="10.23" lengthAdjust="spacingAndGlyphs">21</text>
<line x1="270.6" y1="483.5" x2="270.6" y2="488.3" stroke="#000" stroke-width="1.3" stroke-linecap="butt"/>
<text x="270.6" y="498.5" font-size="9.8" text-anchor="middle" textLength="10.23" lengthAdjust="spacingAndGlyphs">28</text>
<text x="164.9" y="514.5" font-size="12.6" text-anchor="middle" textLength="20" lengthAdjust="spacingAndGlyphs">Days</text>
<text x="21.8" y="397.57" font-size="13" text-anchor="middle" transform="rotate(-90 21.8 397.57)" textLength="100" lengthAdjust="spacingAndGlyphs">Platelet count (×10<tspan font-size="8.5" dy="-4.2">9</tspan><tspan dy="4.2">/L)</tspan></text>
<line x1="61.4" y1="347.7" x2="270.6" y2="347.7" stroke="#000" stroke-width="1.8" stroke-linecap="butt" stroke-dasharray="1.85 1.45"/>
<line x1="64" y1="350.7" x2="270.6" y2="350.7" stroke="#000" stroke-width="1.6" stroke-linecap="butt" stroke-dasharray="5.1 2.9"/>
<line x1="61.4" y1="354.1" x2="270.6" y2="354.1" stroke="#000" stroke-width="1.8" stroke-linecap="butt" stroke-dasharray="1.85 1.45"/>
<line x1="58.2" y1="342.2" x2="58.2" y2="356.8" stroke="#521a72" stroke-width="1.4" stroke-linecap="butt"/>
<line x1="54.8" y1="342.2" x2="61.6" y2="342.2" stroke="#521a72" stroke-width="1.4" stroke-linecap="butt"/>
<line x1="54.8" y1="356.8" x2="61.6" y2="356.8" stroke="#521a72" stroke-width="1.4" stroke-linecap="butt"/>
<line x1="111.3" y1="443.5" x2="111.3" y2="450.5" stroke="#521a72" stroke-width="1.4" stroke-linecap="butt"/>
<line x1="107.9" y1="443.5" x2="114.7" y2="443.5" stroke="#521a72" stroke-width="1.4" stroke-linecap="butt"/>
<line x1="107.9" y1="450.5" x2="114.7" y2="450.5" stroke="#521a72" stroke-width="1.4" stroke-linecap="butt"/>
<line x1="164.4" y1="457.5" x2="164.4" y2="463.5" stroke="#521a72" stroke-width="1.4" stroke-linecap="butt"/>
<line x1="161" y1="457.5" x2="167.8" y2="457.5" stroke="#521a72" stroke-width="1.4" stroke-linecap="butt"/>
<line x1="161" y1="463.5" x2="167.8" y2="463.5" stroke="#521a72" stroke-width="1.4" stroke-linecap="butt"/>
<line x1="217.5" y1="439.5" x2="217.5" y2="445.5" stroke="#521a72" stroke-width="1.4" stroke-linecap="butt"/>
<line x1="214.1" y1="439.5" x2="220.9" y2="439.5" stroke="#521a72" stroke-width="1.4" stroke-linecap="butt"/>
<line x1="214.1" y1="445.5" x2="220.9" y2="445.5" stroke="#521a72" stroke-width="1.4" stroke-linecap="butt"/>
<line x1="270.6" y1="433.3" x2="270.6" y2="440.3" stroke="#521a72" stroke-width="1.4" stroke-linecap="butt"/>
<line x1="267.2" y1="433.3" x2="274" y2="433.3" stroke="#521a72" stroke-width="1.4" stroke-linecap="butt"/>
<line x1="267.2" y1="440.3" x2="274" y2="440.3" stroke="#521a72" stroke-width="1.4" stroke-linecap="butt"/>
<polyline points="58.2,349.5 111.3,446.5 164.4,460.6 217.5,442.5 270.6,436.8" fill="none" stroke="#521a72" stroke-width="1.9" stroke-linejoin="round" stroke-linecap="butt" stroke-dasharray="1.3 1.7"/>
<circle cx="58.2" cy="349.5" r="2.5" fill="#521a72"/>
<circle cx="111.3" cy="446.5" r="2.5" fill="#521a72"/>
<circle cx="164.4" cy="460.6" r="2.5" fill="#521a72"/>
<circle cx="217.5" cy="442.5" r="2.5" fill="#521a72"/>
<circle cx="270.6" cy="436.8" r="2.5" fill="#521a72"/>
<line x1="58.2" y1="348.3" x2="58.2" y2="361.2" stroke="#c8102e" stroke-width="1.4" stroke-linecap="butt"/>
<line x1="54.8" y1="348.3" x2="61.6" y2="348.3" stroke="#c8102e" stroke-width="1.4" stroke-linecap="butt"/>
<line x1="54.8" y1="361.2" x2="61.6" y2="361.2" stroke="#c8102e" stroke-width="1.4" stroke-linecap="butt"/>
<line x1="111.3" y1="445.5" x2="111.3" y2="452.5" stroke="#c8102e" stroke-width="1.4" stroke-linecap="butt"/>
<line x1="107.9" y1="445.5" x2="114.7" y2="445.5" stroke="#c8102e" stroke-width="1.4" stroke-linecap="butt"/>
<line x1="107.9" y1="452.5" x2="114.7" y2="452.5" stroke="#c8102e" stroke-width="1.4" stroke-linecap="butt"/>
<line x1="164.4" y1="462.3" x2="164.4" y2="467.7" stroke="#c8102e" stroke-width="1.4" stroke-linecap="butt"/>
<line x1="161" y1="462.3" x2="167.8" y2="462.3" stroke="#c8102e" stroke-width="1.4" stroke-linecap="butt"/>
<line x1="161" y1="467.7" x2="167.8" y2="467.7" stroke="#c8102e" stroke-width="1.4" stroke-linecap="butt"/>
<line x1="217.5" y1="443" x2="217.5" y2="449.5" stroke="#c8102e" stroke-width="1.4" stroke-linecap="butt"/>
<line x1="214.1" y1="443" x2="220.9" y2="443" stroke="#c8102e" stroke-width="1.4" stroke-linecap="butt"/>
<line x1="214.1" y1="449.5" x2="220.9" y2="449.5" stroke="#c8102e" stroke-width="1.4" stroke-linecap="butt"/>
<line x1="270.6" y1="439.5" x2="270.6" y2="446.2" stroke="#c8102e" stroke-width="1.4" stroke-linecap="butt"/>
<line x1="267.2" y1="439.5" x2="274" y2="439.5" stroke="#c8102e" stroke-width="1.4" stroke-linecap="butt"/>
<line x1="267.2" y1="446.2" x2="274" y2="446.2" stroke="#c8102e" stroke-width="1.4" stroke-linecap="butt"/>
<polyline points="58.2,353.5 111.3,449 164.4,464.8 217.5,446.3 270.6,442.5" fill="none" stroke="#c8102e" stroke-width="2" stroke-linejoin="round" stroke-linecap="butt" stroke-dasharray="4.5 1.7 1.3 1.7"/>
<polygon points="54.9,351.02 61.5,351.02 58.2,357.22" fill="#c8102e"/>
<polygon points="108,446.52 114.6,446.52 111.3,452.72" fill="#c8102e"/>
<polygon points="161.1,462.32 167.7,462.32 164.4,468.52" fill="#c8102e"/>
<polygon points="214.2,443.82 220.8,443.82 217.5,450.02" fill="#c8102e"/>
<polygon points="267.3,440.02 273.9,440.02 270.6,446.22" fill="#c8102e"/>
<line x1="58.2" y1="345" x2="58.2" y2="359.4" stroke="#144b87" stroke-width="1.4" stroke-linecap="butt"/>
<line x1="54.8" y1="345" x2="61.6" y2="345" stroke="#144b87" stroke-width="1.4" stroke-linecap="butt"/>
<line x1="54.8" y1="359.4" x2="61.6" y2="359.4" stroke="#144b87" stroke-width="1.4" stroke-linecap="butt"/>
<line x1="111.3" y1="457.3" x2="111.3" y2="464.8" stroke="#144b87" stroke-width="1.4" stroke-linecap="butt"/>
<line x1="107.9" y1="457.3" x2="114.7" y2="457.3" stroke="#144b87" stroke-width="1.4" stroke-linecap="butt"/>
<line x1="107.9" y1="464.8" x2="114.7" y2="464.8" stroke="#144b87" stroke-width="1.4" stroke-linecap="butt"/>
<line x1="164.4" y1="454.2" x2="164.4" y2="459" stroke="#144b87" stroke-width="1.4" stroke-linecap="butt"/>
<line x1="161" y1="454.2" x2="167.8" y2="454.2" stroke="#144b87" stroke-width="1.4" stroke-linecap="butt"/>
<line x1="161" y1="459" x2="167.8" y2="459" stroke="#144b87" stroke-width="1.4" stroke-linecap="butt"/>
<line x1="217.5" y1="427" x2="217.5" y2="435.5" stroke="#144b87" stroke-width="1.4" stroke-linecap="butt"/>
<line x1="214.1" y1="427" x2="220.9" y2="427" stroke="#144b87" stroke-width="1.4" stroke-linecap="butt"/>
<line x1="214.1" y1="435.5" x2="220.9" y2="435.5" stroke="#144b87" stroke-width="1.4" stroke-linecap="butt"/>
<line x1="270.6" y1="421" x2="270.6" y2="430" stroke="#144b87" stroke-width="1.4" stroke-linecap="butt"/>
<line x1="267.2" y1="421" x2="274" y2="421" stroke="#144b87" stroke-width="1.4" stroke-linecap="butt"/>
<line x1="267.2" y1="430" x2="274" y2="430" stroke="#144b87" stroke-width="1.4" stroke-linecap="butt"/>
<polyline points="58.2,352 111.3,461.3 164.4,456.5 217.5,431.3 270.6,425.5" fill="none" stroke="#144b87" stroke-width="2" stroke-linejoin="round" stroke-linecap="butt" stroke-dasharray="4.5 1.5 1.2 1.5 1.2 1.5"/>
<rect x="55.7" y="349.5" width="5" height="5" fill="#144b87"/>
<rect x="108.8" y="458.8" width="5" height="5" fill="#144b87"/>
<rect x="161.9" y="454" width="5" height="5" fill="#144b87"/>
<rect x="215" y="428.8" width="5" height="5" fill="#144b87"/>
<rect x="268.1" y="423" width="5" height="5" fill="#144b87"/>
<line x1="58.2" y1="341.1" x2="58.2" y2="352" stroke="#3bb44a" stroke-width="1.4" stroke-linecap="butt"/>
<line x1="54.8" y1="341.1" x2="61.6" y2="341.1" stroke="#3bb44a" stroke-width="1.4" stroke-linecap="butt"/>
<line x1="54.8" y1="352" x2="61.6" y2="352" stroke="#3bb44a" stroke-width="1.4" stroke-linecap="butt"/>
<line x1="111.3" y1="451" x2="111.3" y2="456.6" stroke="#3bb44a" stroke-width="1.4" stroke-linecap="butt"/>
<line x1="107.9" y1="451" x2="114.7" y2="451" stroke="#3bb44a" stroke-width="1.4" stroke-linecap="butt"/>
<line x1="107.9" y1="456.6" x2="114.7" y2="456.6" stroke="#3bb44a" stroke-width="1.4" stroke-linecap="butt"/>
<line x1="164.4" y1="440.5" x2="164.4" y2="448.7" stroke="#3bb44a" stroke-width="1.4" stroke-linecap="butt"/>
<line x1="161" y1="440.5" x2="167.8" y2="440.5" stroke="#3bb44a" stroke-width="1.4" stroke-linecap="butt"/>
<line x1="161" y1="448.7" x2="167.8" y2="448.7" stroke="#3bb44a" stroke-width="1.4" stroke-linecap="butt"/>
<line x1="217.5" y1="407.7" x2="217.5" y2="418.2" stroke="#3bb44a" stroke-width="1.4" stroke-linecap="butt"/>
<line x1="214.1" y1="407.7" x2="220.9" y2="407.7" stroke="#3bb44a" stroke-width="1.4" stroke-linecap="butt"/>
<line x1="214.1" y1="418.2" x2="220.9" y2="418.2" stroke="#3bb44a" stroke-width="1.4" stroke-linecap="butt"/>
<line x1="270.6" y1="391.7" x2="270.6" y2="405.5" stroke="#3bb44a" stroke-width="1.4" stroke-linecap="butt"/>
<line x1="267.2" y1="391.7" x2="274" y2="391.7" stroke="#3bb44a" stroke-width="1.4" stroke-linecap="butt"/>
<line x1="267.2" y1="405.5" x2="274" y2="405.5" stroke="#3bb44a" stroke-width="1.4" stroke-linecap="butt"/>
<polyline points="58.2,347.5 111.3,453.8 164.4,444.6 217.5,413 270.6,399" fill="none" stroke="#3bb44a" stroke-width="2.2" stroke-linejoin="round" stroke-linecap="butt"/>
<polygon points="54.9,349.74 61.5,349.74 58.2,344.14" fill="#3bb44a"/>
<polygon points="108,456.04 114.6,456.04 111.3,450.44" fill="#3bb44a"/>
<polygon points="161.1,446.84 167.7,446.84 164.4,441.24" fill="#3bb44a"/>
<polygon points="214.2,415.24 220.8,415.24 217.5,409.64" fill="#3bb44a"/>
<polygon points="267.3,401.24 273.9,401.24 270.6,395.64" fill="#3bb44a"/>
<polygon points="270.6,381.7 271.21,383.16 272.79,383.29 271.58,384.32 271.95,385.86 270.6,385.04 269.25,385.86 269.62,384.32 268.41,383.29 269.99,383.16" fill="#000"/>
<line x1="115.8" y1="370.8" x2="130.3" y2="370.8" stroke="#521a72" stroke-width="1.9" stroke-linecap="butt" stroke-dasharray="1.3 1.8"/>
<circle cx="123.4" cy="370.8" r="2.25" fill="#521a72"/>
<text x="135.4" y="374.1" font-size="9.6">Control</text>
<line x1="115.8" y1="383.75" x2="130.3" y2="383.75" stroke="#c8102e" stroke-width="2" stroke-linecap="butt" stroke-dasharray="1.3 1.8 9 20"/>
<polygon points="120.43,381.52 126.37,381.52 123.4,387.1" fill="#c8102e"/>
<text x="135.4" y="387.05" font-size="9.6">Treg-del</text>
<line x1="115.8" y1="396.7" x2="130.3" y2="396.7" stroke="#144b87" stroke-width="2" stroke-linecap="butt" stroke-dasharray="1.3 1.8 20 0"/>
<rect x="121.15" y="394.45" width="4.5" height="4.5" fill="#144b87"/>
<text x="135.4" y="400" font-size="9.6">Treg-del + Dec</text>
<line x1="115.8" y1="409.65" x2="130.3" y2="409.65" stroke="#3bb44a" stroke-width="2.2" stroke-linecap="butt"/>
<polygon points="120.43,411.67 126.37,411.67 123.4,406.63" fill="#3bb44a"/>
<text x="135.4" y="412.95" font-size="9.6">Dec</text>
<line x1="58.5" y1="679.45" x2="58.5" y2="851.95" stroke="#000" stroke-width="1.6" stroke-linecap="butt"/>
<line x1="53.7" y1="851.3" x2="58.5" y2="851.3" stroke="#000" stroke-width="1.3" stroke-linecap="butt"/>
<text x="51.2" y="854.2" font-size="9.8" text-anchor="end" textLength="5.12" lengthAdjust="spacingAndGlyphs">0</text>
<line x1="53.7" y1="826.75" x2="58.5" y2="826.75" stroke="#000" stroke-width="1.3" stroke-linecap="butt"/>
<text x="51.2" y="829.65" font-size="9.8" text-anchor="end" textLength="15.35" lengthAdjust="spacingAndGlyphs">200</text>
<line x1="53.7" y1="802.2" x2="58.5" y2="802.2" stroke="#000" stroke-width="1.3" stroke-linecap="butt"/>
<text x="51.2" y="805.1" font-size="9.8" text-anchor="end" textLength="15.35" lengthAdjust="spacingAndGlyphs">400</text>
<line x1="53.7" y1="777.65" x2="58.5" y2="777.65" stroke="#000" stroke-width="1.3" stroke-linecap="butt"/>
<text x="51.2" y="780.55" font-size="9.8" text-anchor="end" textLength="15.35" lengthAdjust="spacingAndGlyphs">600</text>
<line x1="53.7" y1="753.1" x2="58.5" y2="753.1" stroke="#000" stroke-width="1.3" stroke-linecap="butt"/>
<text x="51.2" y="756" font-size="9.8" text-anchor="end" textLength="15.35" lengthAdjust="spacingAndGlyphs">800</text>
<line x1="53.7" y1="728.55" x2="58.5" y2="728.55" stroke="#000" stroke-width="1.3" stroke-linecap="butt"/>
<text x="51.2" y="731.45" font-size="9.8" text-anchor="end" textLength="20.46" lengthAdjust="spacingAndGlyphs">1000</text>
<line x1="53.7" y1="704" x2="58.5" y2="704" stroke="#000" stroke-width="1.3" stroke-linecap="butt"/>
<text x="51.2" y="706.9" font-size="9.8" text-anchor="end" textLength="20.46" lengthAdjust="spacingAndGlyphs">1200</text>
<line x1="53.7" y1="679.45" x2="58.5" y2="679.45" stroke="#000" stroke-width="1.3" stroke-linecap="butt"/>
<text x="51.2" y="682.35" font-size="9.8" text-anchor="end" textLength="20.46" lengthAdjust="spacingAndGlyphs">1400</text>
<line x1="57.7" y1="851.3" x2="271.55" y2="851.3" stroke="#000" stroke-width="1.6" stroke-linecap="butt"/>
<line x1="58.5" y1="851.3" x2="58.5" y2="856.1" stroke="#000" stroke-width="1.3" stroke-linecap="butt"/>
<text x="58.5" y="866.3" font-size="9.8" text-anchor="middle" textLength="5.12" lengthAdjust="spacingAndGlyphs">0</text>
<line x1="111.6" y1="851.3" x2="111.6" y2="856.1" stroke="#000" stroke-width="1.3" stroke-linecap="butt"/>
<text x="111.6" y="866.3" font-size="9.8" text-anchor="middle" textLength="5.12" lengthAdjust="spacingAndGlyphs">7</text>
<line x1="164.7" y1="851.3" x2="164.7" y2="856.1" stroke="#000" stroke-width="1.3" stroke-linecap="butt"/>
<text x="164.7" y="866.3" font-size="9.8" text-anchor="middle" textLength="10.23" lengthAdjust="spacingAndGlyphs">14</text>
<line x1="217.8" y1="851.3" x2="217.8" y2="856.1" stroke="#000" stroke-width="1.3" stroke-linecap="butt"/>
<text x="217.8" y="866.3" font-size="9.8" text-anchor="middle" textLength="10.23" lengthAdjust="spacingAndGlyphs">21</text>
<line x1="270.9" y1="851.3" x2="270.9" y2="856.1" stroke="#000" stroke-width="1.3" stroke-linecap="butt"/>
<text x="270.9" y="866.3" font-size="9.8" text-anchor="middle" textLength="10.23" lengthAdjust="spacingAndGlyphs">28</text>
<text x="165.2" y="882.3" font-size="12.6" text-anchor="middle" textLength="20" lengthAdjust="spacingAndGlyphs">Days</text>
<text x="21.8" y="765.38" font-size="13" text-anchor="middle" transform="rotate(-90 21.8 765.38)" textLength="100" lengthAdjust="spacingAndGlyphs">Platelet count (×10<tspan font-size="8.5" dy="-4.2">9</tspan><tspan dy="4.2">/L)</tspan></text>
<line x1="61.7" y1="715.5" x2="270.9" y2="715.5" stroke="#000" stroke-width="1.8" stroke-linecap="butt" stroke-dasharray="1.85 1.45"/>
<line x1="64.3" y1="718" x2="270.9" y2="718" stroke="#000" stroke-width="1.6" stroke-linecap="butt" stroke-dasharray="5.1 2.9"/>
<line x1="61.7" y1="721" x2="270.9" y2="721" stroke="#000" stroke-width="1.8" stroke-linecap="butt" stroke-dasharray="1.85 1.45"/>
<line x1="58.5" y1="718" x2="58.5" y2="727" stroke="#521a72" stroke-width="1.4" stroke-linecap="butt"/>
<line x1="55.1" y1="718" x2="61.9" y2="718" stroke="#521a72" stroke-width="1.4" stroke-linecap="butt"/>
<line x1="55.1" y1="727" x2="61.9" y2="727" stroke="#521a72" stroke-width="1.4" stroke-linecap="butt"/>
<line x1="111.6" y1="815" x2="111.6" y2="822" stroke="#521a72" stroke-width="1.4" stroke-linecap="butt"/>
<line x1="108.2" y1="815" x2="115" y2="815" stroke="#521a72" stroke-width="1.4" stroke-linecap="butt"/>
<line x1="108.2" y1="822" x2="115" y2="822" stroke="#521a72" stroke-width="1.4" stroke-linecap="butt"/>
<line x1="164.7" y1="820.5" x2="164.7" y2="827" stroke="#521a72" stroke-width="1.4" stroke-linecap="butt"/>
<line x1="161.3" y1="820.5" x2="168.1" y2="820.5" stroke="#521a72" stroke-width="1.4" stroke-linecap="butt"/>
<line x1="161.3" y1="827" x2="168.1" y2="827" stroke="#521a72" stroke-width="1.4" stroke-linecap="butt"/>
<line x1="217.8" y1="805" x2="217.8" y2="811.5" stroke="#521a72" stroke-width="1.4" stroke-linecap="butt"/>
<line x1="214.4" y1="805" x2="221.2" y2="805" stroke="#521a72" stroke-width="1.4" stroke-linecap="butt"/>
<line x1="214.4" y1="811.5" x2="221.2" y2="811.5" stroke="#521a72" stroke-width="1.4" stroke-linecap="butt"/>
<line x1="270.9" y1="800.5" x2="270.9" y2="807" stroke="#521a72" stroke-width="1.4" stroke-linecap="butt"/>
<line x1="267.5" y1="800.5" x2="274.3" y2="800.5" stroke="#521a72" stroke-width="1.4" stroke-linecap="butt"/>
<line x1="267.5" y1="807" x2="274.3" y2="807" stroke="#521a72" stroke-width="1.4" stroke-linecap="butt"/>
<polyline points="58.5,722.5 111.6,818.5 164.7,823.8 217.8,808.3 270.9,803.8" fill="none" stroke="#521a72" stroke-width="1.9" stroke-linejoin="round" stroke-linecap="butt" stroke-dasharray="1.3 1.7"/>
<circle cx="58.5" cy="722.5" r="2.5" fill="#521a72"/>
<circle cx="111.6" cy="818.5" r="2.5" fill="#521a72"/>
<circle cx="164.7" cy="823.8" r="2.5" fill="#521a72"/>
<circle cx="217.8" cy="808.3" r="2.5" fill="#521a72"/>
<circle cx="270.9" cy="803.8" r="2.5" fill="#521a72"/>
<line x1="58.5" y1="721" x2="58.5" y2="731.5" stroke="#c8102e" stroke-width="1.4" stroke-linecap="butt"/>
<line x1="55.1" y1="721" x2="61.9" y2="721" stroke="#c8102e" stroke-width="1.4" stroke-linecap="butt"/>
<line x1="55.1" y1="731.5" x2="61.9" y2="731.5" stroke="#c8102e" stroke-width="1.4" stroke-linecap="butt"/>
<line x1="111.6" y1="818" x2="111.6" y2="824" stroke="#c8102e" stroke-width="1.4" stroke-linecap="butt"/>
<line x1="108.2" y1="818" x2="115" y2="818" stroke="#c8102e" stroke-width="1.4" stroke-linecap="butt"/>
<line x1="108.2" y1="824" x2="115" y2="824" stroke="#c8102e" stroke-width="1.4" stroke-linecap="butt"/>
<line x1="164.7" y1="825.5" x2="164.7" y2="832" stroke="#c8102e" stroke-width="1.4" stroke-linecap="butt"/>
<line x1="161.3" y1="825.5" x2="168.1" y2="825.5" stroke="#c8102e" stroke-width="1.4" stroke-linecap="butt"/>
<line x1="161.3" y1="832" x2="168.1" y2="832" stroke="#c8102e" stroke-width="1.4" stroke-linecap="butt"/>
<line x1="217.8" y1="809.8" x2="217.8" y2="818" stroke="#c8102e" stroke-width="1.4" stroke-linecap="butt"/>
<line x1="214.4" y1="809.8" x2="221.2" y2="809.8" stroke="#c8102e" stroke-width="1.4" stroke-linecap="butt"/>
<line x1="214.4" y1="818" x2="221.2" y2="818" stroke="#c8102e" stroke-width="1.4" stroke-linecap="butt"/>
<line x1="270.9" y1="808.5" x2="270.9" y2="814.5" stroke="#c8102e" stroke-width="1.4" stroke-linecap="butt"/>
<line x1="267.5" y1="808.5" x2="274.3" y2="808.5" stroke="#c8102e" stroke-width="1.4" stroke-linecap="butt"/>
<line x1="267.5" y1="814.5" x2="274.3" y2="814.5" stroke="#c8102e" stroke-width="1.4" stroke-linecap="butt"/>
<polyline points="58.5,726 111.6,821 164.7,828.8 217.8,813.8 270.9,811.3" fill="none" stroke="#c8102e" stroke-width="2" stroke-linejoin="round" stroke-linecap="butt" stroke-dasharray="4.5 1.7 1.3 1.7"/>
<rect x="56" y="723.5" width="5" height="5" fill="#c8102e"/>
<rect x="109.1" y="818.5" width="5" height="5" fill="#c8102e"/>
<rect x="162.2" y="826.3" width="5" height="5" fill="#c8102e"/>
<rect x="215.3" y="811.3" width="5" height="5" fill="#c8102e"/>
<rect x="268.4" y="808.8" width="5" height="5" fill="#c8102e"/>
<line x1="58.5" y1="708" x2="58.5" y2="726" stroke="#144b87" stroke-width="1.4" stroke-linecap="butt"/>
<line x1="55.1" y1="708" x2="61.9" y2="708" stroke="#144b87" stroke-width="1.4" stroke-linecap="butt"/>
<line x1="55.1" y1="726" x2="61.9" y2="726" stroke="#144b87" stroke-width="1.4" stroke-linecap="butt"/>
<line x1="111.6" y1="814.5" x2="111.6" y2="821.5" stroke="#144b87" stroke-width="1.4" stroke-linecap="butt"/>
<line x1="108.2" y1="814.5" x2="115" y2="814.5" stroke="#144b87" stroke-width="1.4" stroke-linecap="butt"/>
<line x1="108.2" y1="821.5" x2="115" y2="821.5" stroke="#144b87" stroke-width="1.4" stroke-linecap="butt"/>
<line x1="164.7" y1="817" x2="164.7" y2="823" stroke="#144b87" stroke-width="1.4" stroke-linecap="butt"/>
<line x1="161.3" y1="817" x2="168.1" y2="817" stroke="#144b87" stroke-width="1.4" stroke-linecap="butt"/>
<line x1="161.3" y1="823" x2="168.1" y2="823" stroke="#144b87" stroke-width="1.4" stroke-linecap="butt"/>
<line x1="217.8" y1="796" x2="217.8" y2="802.5" stroke="#144b87" stroke-width="1.4" stroke-linecap="butt"/>
<line x1="214.4" y1="796" x2="221.2" y2="796" stroke="#144b87" stroke-width="1.4" stroke-linecap="butt"/>
<line x1="214.4" y1="802.5" x2="221.2" y2="802.5" stroke="#144b87" stroke-width="1.4" stroke-linecap="butt"/>
<line x1="270.9" y1="787.5" x2="270.9" y2="800" stroke="#144b87" stroke-width="1.4" stroke-linecap="butt"/>
<line x1="267.5" y1="787.5" x2="274.3" y2="787.5" stroke="#144b87" stroke-width="1.4" stroke-linecap="butt"/>
<line x1="267.5" y1="800" x2="274.3" y2="800" stroke="#144b87" stroke-width="1.4" stroke-linecap="butt"/>
<polyline points="58.5,717 111.6,818 164.7,820 217.8,799.3 270.9,792.5" fill="none" stroke="#144b87" stroke-width="2" stroke-linejoin="round" stroke-linecap="butt" stroke-dasharray="4.5 1.5 1.2 1.5 1.2 1.5"/>
<polygon points="55.2,714.52 61.8,714.52 58.5,720.72" fill="#144b87"/>
<polygon points="108.3,815.52 114.9,815.52 111.6,821.72" fill="#144b87"/>
<polygon points="161.4,817.52 168,817.52 164.7,823.72" fill="#144b87"/>
<polygon points="214.5,796.82 221.1,796.82 217.8,803.02" fill="#144b87"/>
<polygon points="267.6,790.02 274.2,790.02 270.9,796.22" fill="#144b87"/>
<line x1="58.5" y1="713.5" x2="58.5" y2="724" stroke="#3bb44a" stroke-width="1.4" stroke-linecap="butt"/>
<line x1="55.1" y1="713.5" x2="61.9" y2="713.5" stroke="#3bb44a" stroke-width="1.4" stroke-linecap="butt"/>
<line x1="55.1" y1="724" x2="61.9" y2="724" stroke="#3bb44a" stroke-width="1.4" stroke-linecap="butt"/>
<line x1="111.6" y1="819.4" x2="111.6" y2="827" stroke="#3bb44a" stroke-width="1.4" stroke-linecap="butt"/>
<line x1="108.2" y1="819.4" x2="115" y2="819.4" stroke="#3bb44a" stroke-width="1.4" stroke-linecap="butt"/>
<line x1="108.2" y1="827" x2="115" y2="827" stroke="#3bb44a" stroke-width="1.4" stroke-linecap="butt"/>
<line x1="164.7" y1="807.5" x2="164.7" y2="813.8" stroke="#3bb44a" stroke-width="1.4" stroke-linecap="butt"/>
<line x1="161.3" y1="807.5" x2="168.1" y2="807.5" stroke="#3bb44a" stroke-width="1.4" stroke-linecap="butt"/>
<line x1="161.3" y1="813.8" x2="168.1" y2="813.8" stroke="#3bb44a" stroke-width="1.4" stroke-linecap="butt"/>
<line x1="217.8" y1="779.2" x2="217.8" y2="787.5" stroke="#3bb44a" stroke-width="1.4" stroke-linecap="butt"/>
<line x1="214.4" y1="779.2" x2="221.2" y2="779.2" stroke="#3bb44a" stroke-width="1.4" stroke-linecap="butt"/>
<line x1="214.4" y1="787.5" x2="221.2" y2="787.5" stroke="#3bb44a" stroke-width="1.4" stroke-linecap="butt"/>
<line x1="270.9" y1="764.2" x2="270.9" y2="777" stroke="#3bb44a" stroke-width="1.4" stroke-linecap="butt"/>
<line x1="267.5" y1="764.2" x2="274.3" y2="764.2" stroke="#3bb44a" stroke-width="1.4" stroke-linecap="butt"/>
<line x1="267.5" y1="777" x2="274.3" y2="777" stroke="#3bb44a" stroke-width="1.4" stroke-linecap="butt"/>
<polyline points="58.5,718.5 111.6,823.3 164.7,810.8 217.8,783.3 270.9,771.3" fill="none" stroke="#3bb44a" stroke-width="2.2" stroke-linejoin="round" stroke-linecap="butt"/>
<polygon points="55.2,720.74 61.8,720.74 58.5,715.14" fill="#3bb44a"/>
<polygon points="108.3,825.54 114.9,825.54 111.6,819.94" fill="#3bb44a"/>
<polygon points="161.4,813.04 168,813.04 164.7,807.44" fill="#3bb44a"/>
<polygon points="214.5,785.54 221.1,785.54 217.8,779.94" fill="#3bb44a"/>
<polygon points="267.6,773.54 274.2,773.54 270.9,767.94" fill="#3bb44a"/>
<polygon points="217.8,767.2 218.41,768.66 219.99,768.79 218.78,769.82 219.15,771.36 217.8,770.53 216.45,771.36 216.82,769.82 215.61,768.79 217.19,768.66" fill="#000"/>
<line x1="106.6" y1="734.2" x2="121.1" y2="734.2" stroke="#521a72" stroke-width="1.9" stroke-linecap="butt" stroke-dasharray="1.3 1.8"/>
<circle cx="114.2" cy="734.2" r="2.25" fill="#521a72"/>
<text x="126.2" y="737.5" font-size="10">Isotype Ab</text>
<line x1="106.6" y1="746.95" x2="121.1" y2="746.95" stroke="#c8102e" stroke-width="2" stroke-linecap="butt" stroke-dasharray="1.3 1.8 20 0"/>
<rect x="111.95" y="744.7" width="4.5" height="4.5" fill="#c8102e"/>
<text x="126.2" y="750.25" font-size="10">Anti-CD25 Ab</text>
<line x1="106.6" y1="759.7" x2="121.1" y2="759.7" stroke="#144b87" stroke-width="2" stroke-linecap="butt" stroke-dasharray="1.3 1.8 11.5 20"/>
<polygon points="111.23,757.47 117.17,757.47 114.2,763.05" fill="#144b87"/>
<text x="126.2" y="763" font-size="10">Anti-CD25 Ab + Dec</text>
<line x1="106.6" y1="772.45" x2="121.1" y2="772.45" stroke="#3bb44a" stroke-width="2.2" stroke-linecap="butt"/>
<polygon points="111.23,774.47 117.17,774.47 114.2,769.43" fill="#3bb44a"/>
<text x="126.2" y="775.75" font-size="10">Isotype Ab + Dec</text>
<rect x="1" y="1" width="518" height="1020" fill="none" stroke="#000" stroke-width="2"/>
</svg>
</body></html>
